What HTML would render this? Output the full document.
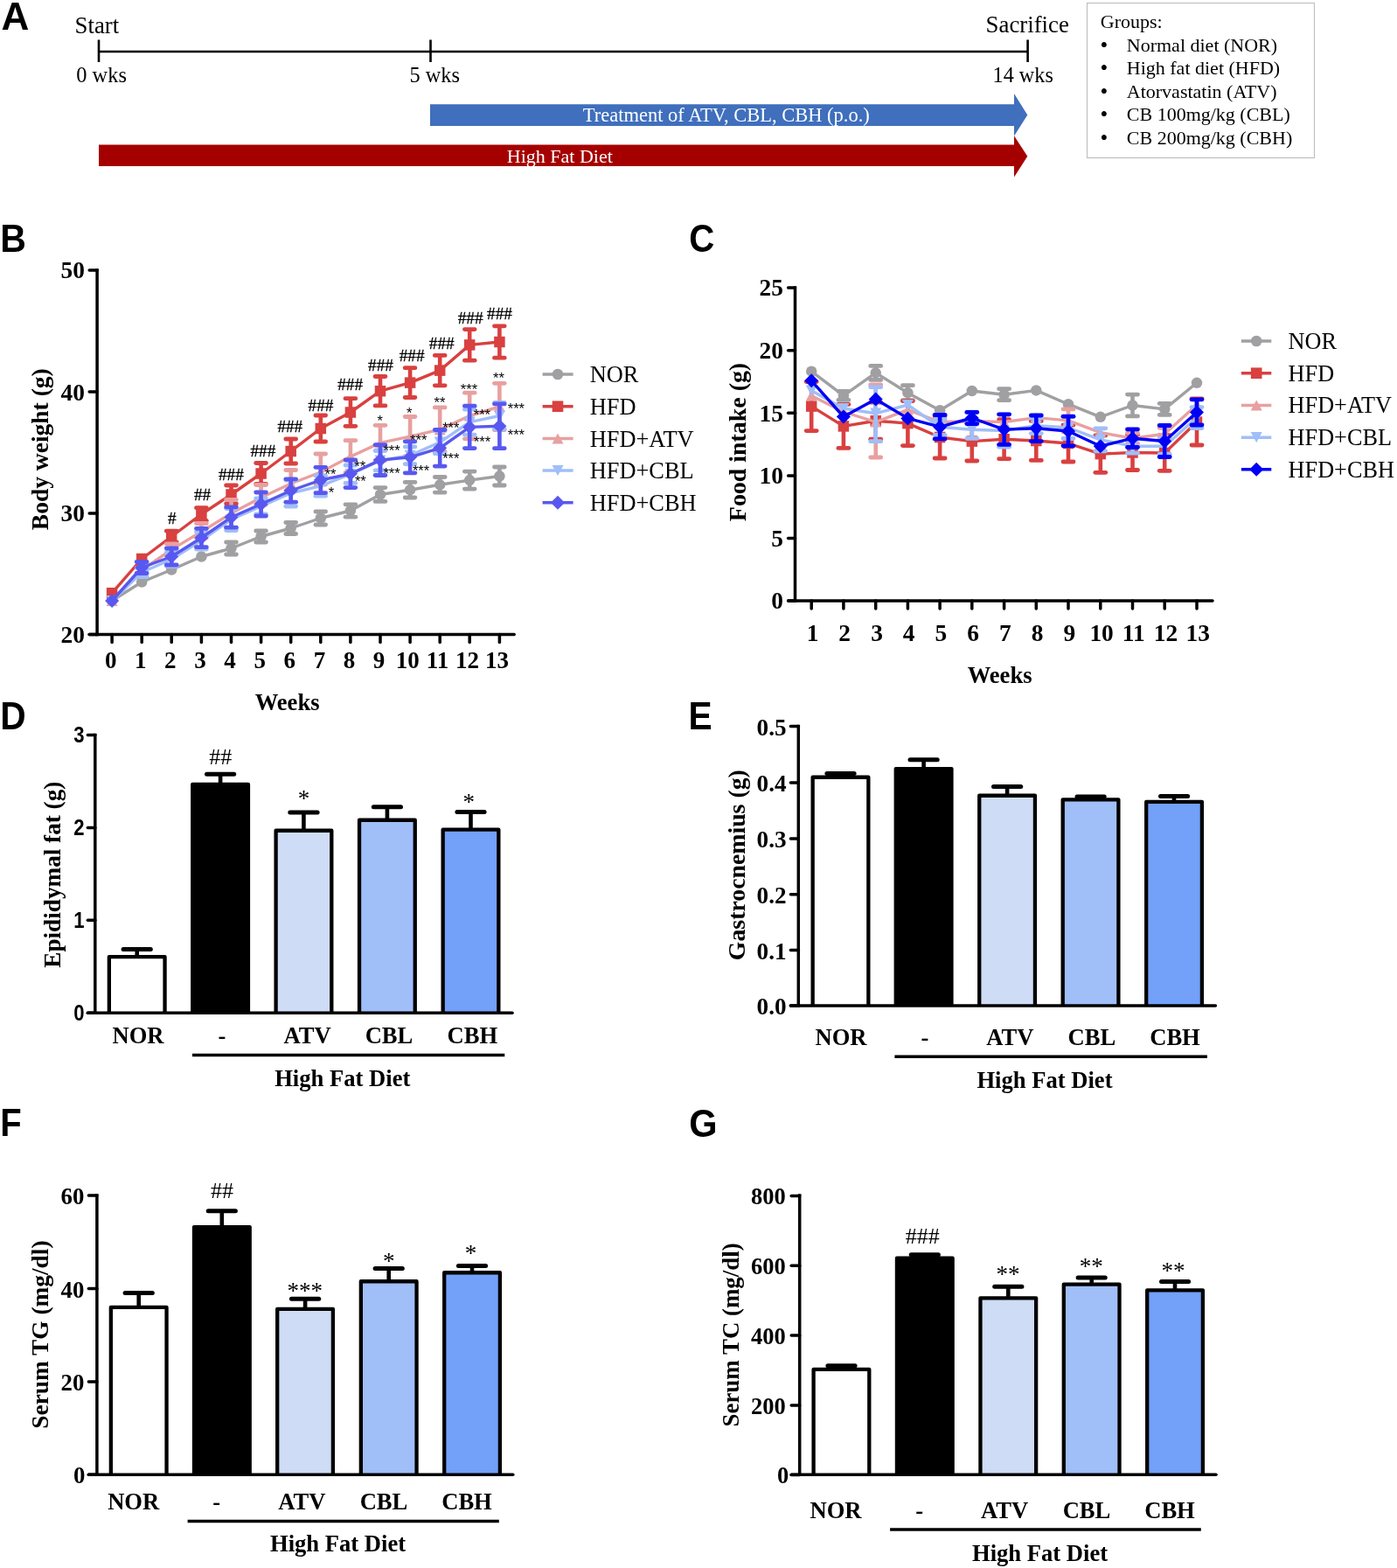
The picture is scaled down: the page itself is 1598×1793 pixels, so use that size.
<!DOCTYPE html>
<html lang="en">
<head>
<meta charset="utf-8">
<title>Figure</title>
<style>
html,body{margin:0;padding:0;background:#fff;}
body{width:1598px;height:1793px;overflow:hidden;position:relative;}
svg{position:absolute;left:0;top:0;display:block;}
text{white-space:pre;}
.sr{font-family:"Liberation Serif",serif;font-weight:400;}
.sb{font-family:"Liberation Serif",serif;font-weight:700;}
.ar{font-family:"Liberation Sans",sans-serif;font-weight:400;}
.ab{font-family:"Liberation Sans",sans-serif;font-weight:700;}
</style>
</head>
<body>
<svg width="1598" height="1793" viewBox="0 0 1598 1793">
<rect x="0" y="0" width="1598" height="1793" fill="#ffffff"/>
<text class="ab" transform="translate(1.62 34.0) scale(1.0016 1)" font-size="44.0">A</text>
<text class="ab" transform="translate(0.26 287.5) scale(0.9319 1)" font-size="44.0">B</text>
<text class="ab" transform="translate(788.34 287.8) scale(0.9137 1)" font-size="44.0">C</text>
<text class="ab" transform="translate(0.17 834.2) scale(0.9267 1)" font-size="44.0">D</text>
<text class="ab" transform="translate(787.38 834.0) scale(0.9237 1)" font-size="44.0">E</text>
<text class="ab" transform="translate(0.32 1299.0) scale(0.9096 1)" font-size="44.0">F</text>
<text class="ab" transform="translate(788.19 1300.1) scale(0.9432 1)" font-size="44.0">G</text>
<line x1="113" y1="59" x2="1176" y2="59" stroke="#000" stroke-width="2.6" stroke-linecap="butt"/>
<line x1="113" y1="45.5" x2="113" y2="71" stroke="#000" stroke-width="2.6" stroke-linecap="butt"/>
<line x1="492.5" y1="45.5" x2="492.5" y2="71" stroke="#000" stroke-width="2.6" stroke-linecap="butt"/>
<line x1="1175.6" y1="45.5" x2="1175.6" y2="71" stroke="#000" stroke-width="2.6" stroke-linecap="butt"/>
<text class="sr" x="85.6" y="37.6" font-size="26.8" text-anchor="start" fill="#000">Start</text>
<text class="sr" x="1127.6" y="37.2" font-size="26.8" text-anchor="start" fill="#000">Sacrifice</text>
<text class="sr" x="87.3" y="94" font-size="24.4" text-anchor="start" fill="#000">0 wks</text>
<text class="sr" x="468.4" y="94" font-size="24.4" text-anchor="start" fill="#000">5 wks</text>
<text class="sr" x="1135.6" y="94" font-size="24.2" text-anchor="start" fill="#000">14 wks</text>
<polygon points="492,119.3 1160,119.3 1160,107.1 1175.3,131.4 1160,155.6 1160,144 492,144" fill="#3f6fbd"/>
<polygon points="113,165.5 1160,165.5 1160,155.2 1175.3,178.8 1160,202.4 1160,190 113,190" fill="#a50000"/>
<text class="sr" x="830.8" y="138.8" font-size="22.5" text-anchor="middle" fill="#fff">Treatment of ATV, CBL, CBH (p.o.)</text>
<text class="sr" x="640.3" y="185.6" font-size="22" text-anchor="middle" fill="#fff">High Fat Diet</text>
<rect x="1243.5" y="3.5" width="260" height="177" fill="#fff" stroke="#bfbfbf" stroke-width="1.2"/>
<text class="sr" x="1258.8" y="32.2" font-size="22" text-anchor="start" fill="#000">Groups:</text>
<text class="sr" x="1258.6" y="59.5" font-size="25" text-anchor="start" fill="#000">•</text>
<text class="sr" x="1288.8" y="58.7" font-size="22" text-anchor="start" fill="#000">Normal diet (NOR)</text>
<text class="sr" x="1258.6" y="86.0" font-size="25" text-anchor="start" fill="#000">•</text>
<text class="sr" x="1288.8" y="85.2" font-size="22" text-anchor="start" fill="#000">High fat diet (HFD)</text>
<text class="sr" x="1258.6" y="112.5" font-size="25" text-anchor="start" fill="#000">•</text>
<text class="sr" x="1288.8" y="111.7" font-size="22" text-anchor="start" fill="#000">Atorvastatin (ATV)</text>
<text class="sr" x="1258.6" y="139.0" font-size="25" text-anchor="start" fill="#000">•</text>
<text class="sr" x="1288.8" y="138.2" font-size="22" text-anchor="start" fill="#000">CB 100mg/kg (CBL)</text>
<text class="sr" x="1258.6" y="165.5" font-size="25" text-anchor="start" fill="#000">•</text>
<text class="sr" x="1288.8" y="164.7" font-size="22" text-anchor="start" fill="#000">CB 200mg/kg (CBH)</text>
<line x1="111.1" y1="307.25" x2="111.1" y2="727.35" stroke="#000" stroke-width="3.5" stroke-linecap="butt"/>
<line x1="102.2" y1="725.6" x2="588.2" y2="725.6" stroke="#000" stroke-width="3.5" stroke-linecap="round"/>
<line x1="102.2" y1="309" x2="111.1" y2="309" stroke="#000" stroke-width="3.5" stroke-linecap="round"/>
<text class="sb" x="97" y="318.4" font-size="27.4" text-anchor="end" fill="#000">50</text>
<line x1="102.2" y1="448.1" x2="111.1" y2="448.1" stroke="#000" stroke-width="3.5" stroke-linecap="round"/>
<text class="sb" x="97" y="457.5" font-size="27.4" text-anchor="end" fill="#000">40</text>
<line x1="102.2" y1="587.0" x2="111.1" y2="587.0" stroke="#000" stroke-width="3.5" stroke-linecap="round"/>
<text class="sb" x="97" y="596.4" font-size="27.4" text-anchor="end" fill="#000">30</text>
<line x1="102.2" y1="725.6" x2="111.1" y2="725.6" stroke="#000" stroke-width="3.5" stroke-linecap="round"/>
<text class="sb" x="97" y="735.0" font-size="27.4" text-anchor="end" fill="#000">20</text>
<line x1="128.1" y1="725.6" x2="128.1" y2="734.4" stroke="#000" stroke-width="3.5" stroke-linecap="round"/>
<text class="sb" x="126.7" y="764" font-size="27.0" text-anchor="middle" fill="#000">0</text>
<line x1="162.2" y1="725.6" x2="162.2" y2="734.4" stroke="#000" stroke-width="3.5" stroke-linecap="round"/>
<text class="sb" x="160.8" y="764" font-size="27.0" text-anchor="middle" fill="#000">1</text>
<line x1="196.2" y1="725.6" x2="196.2" y2="734.4" stroke="#000" stroke-width="3.5" stroke-linecap="round"/>
<text class="sb" x="194.8" y="764" font-size="27.0" text-anchor="middle" fill="#000">2</text>
<line x1="230.4" y1="725.6" x2="230.4" y2="734.4" stroke="#000" stroke-width="3.5" stroke-linecap="round"/>
<text class="sb" x="229.0" y="764" font-size="27.0" text-anchor="middle" fill="#000">3</text>
<line x1="264.5" y1="725.6" x2="264.5" y2="734.4" stroke="#000" stroke-width="3.5" stroke-linecap="round"/>
<text class="sb" x="263.1" y="764" font-size="27.0" text-anchor="middle" fill="#000">4</text>
<line x1="298.6" y1="725.6" x2="298.6" y2="734.4" stroke="#000" stroke-width="3.5" stroke-linecap="round"/>
<text class="sb" x="297.2" y="764" font-size="27.0" text-anchor="middle" fill="#000">5</text>
<line x1="332.7" y1="725.6" x2="332.7" y2="734.4" stroke="#000" stroke-width="3.5" stroke-linecap="round"/>
<text class="sb" x="331.3" y="764" font-size="27.0" text-anchor="middle" fill="#000">6</text>
<line x1="366.8" y1="725.6" x2="366.8" y2="734.4" stroke="#000" stroke-width="3.5" stroke-linecap="round"/>
<text class="sb" x="365.4" y="764" font-size="27.0" text-anchor="middle" fill="#000">7</text>
<line x1="400.9" y1="725.6" x2="400.9" y2="734.4" stroke="#000" stroke-width="3.5" stroke-linecap="round"/>
<text class="sb" x="399.5" y="764" font-size="27.0" text-anchor="middle" fill="#000">8</text>
<line x1="435.0" y1="725.6" x2="435.0" y2="734.4" stroke="#000" stroke-width="3.5" stroke-linecap="round"/>
<text class="sb" x="433.6" y="764" font-size="27.0" text-anchor="middle" fill="#000">9</text>
<line x1="469.1" y1="725.6" x2="469.1" y2="734.4" stroke="#000" stroke-width="3.5" stroke-linecap="round"/>
<text class="sb" x="466.2" y="764" font-size="27.0" text-anchor="middle" fill="#000">10</text>
<line x1="503.2" y1="725.6" x2="503.2" y2="734.4" stroke="#000" stroke-width="3.5" stroke-linecap="round"/>
<text class="sb" x="500.4" y="764" font-size="27.0" text-anchor="middle" fill="#000">11</text>
<line x1="537.2" y1="725.6" x2="537.2" y2="734.4" stroke="#000" stroke-width="3.5" stroke-linecap="round"/>
<text class="sb" x="534.5" y="764" font-size="27.0" text-anchor="middle" fill="#000">12</text>
<line x1="571.4" y1="725.6" x2="571.4" y2="734.4" stroke="#000" stroke-width="3.5" stroke-linecap="round"/>
<text class="sb" x="568.6" y="764" font-size="27.0" text-anchor="middle" fill="#000">13</text>
<text class="sb" x="328.6" y="812" font-size="26.6" text-anchor="middle" fill="#000">Weeks</text>
<text class="sb" transform="translate(54.6 513.7) rotate(-90)" font-size="27.5" text-anchor="middle">Body weight (g)</text>
<line x1="264.5" y1="620.0" x2="264.5" y2="634.0" stroke="#a0a0a3" stroke-width="4.6" stroke-linecap="butt"/>
<line x1="258.6" y1="620.0" x2="270.4" y2="620.0" stroke="#a0a0a3" stroke-width="4.8" stroke-linecap="round"/>
<line x1="258.6" y1="634.0" x2="270.4" y2="634.0" stroke="#a0a0a3" stroke-width="4.8" stroke-linecap="round"/>
<line x1="298.6" y1="607.0" x2="298.6" y2="620.0" stroke="#a0a0a3" stroke-width="4.6" stroke-linecap="butt"/>
<line x1="292.7" y1="607.0" x2="304.4" y2="607.0" stroke="#a0a0a3" stroke-width="4.8" stroke-linecap="round"/>
<line x1="292.7" y1="620.0" x2="304.4" y2="620.0" stroke="#a0a0a3" stroke-width="4.8" stroke-linecap="round"/>
<line x1="332.7" y1="597.5" x2="332.7" y2="610.5" stroke="#a0a0a3" stroke-width="4.6" stroke-linecap="butt"/>
<line x1="326.8" y1="597.5" x2="338.6" y2="597.5" stroke="#a0a0a3" stroke-width="4.8" stroke-linecap="round"/>
<line x1="326.8" y1="610.5" x2="338.6" y2="610.5" stroke="#a0a0a3" stroke-width="4.8" stroke-linecap="round"/>
<line x1="366.8" y1="585.0" x2="366.8" y2="600.0" stroke="#a0a0a3" stroke-width="4.6" stroke-linecap="butt"/>
<line x1="360.9" y1="585.0" x2="372.6" y2="585.0" stroke="#a0a0a3" stroke-width="4.8" stroke-linecap="round"/>
<line x1="360.9" y1="600.0" x2="372.6" y2="600.0" stroke="#a0a0a3" stroke-width="4.8" stroke-linecap="round"/>
<line x1="400.9" y1="576.8" x2="400.9" y2="591.2" stroke="#a0a0a3" stroke-width="4.6" stroke-linecap="butt"/>
<line x1="395.0" y1="576.8" x2="406.8" y2="576.8" stroke="#a0a0a3" stroke-width="4.8" stroke-linecap="round"/>
<line x1="395.0" y1="591.2" x2="406.8" y2="591.2" stroke="#a0a0a3" stroke-width="4.8" stroke-linecap="round"/>
<line x1="435.0" y1="557.6" x2="435.0" y2="573.4" stroke="#a0a0a3" stroke-width="4.6" stroke-linecap="butt"/>
<line x1="429.1" y1="557.6" x2="440.9" y2="557.6" stroke="#a0a0a3" stroke-width="4.8" stroke-linecap="round"/>
<line x1="429.1" y1="573.4" x2="440.9" y2="573.4" stroke="#a0a0a3" stroke-width="4.8" stroke-linecap="round"/>
<line x1="469.1" y1="551.4" x2="469.1" y2="569.0" stroke="#a0a0a3" stroke-width="4.6" stroke-linecap="butt"/>
<line x1="463.2" y1="551.4" x2="474.9" y2="551.4" stroke="#a0a0a3" stroke-width="4.8" stroke-linecap="round"/>
<line x1="463.2" y1="569.0" x2="474.9" y2="569.0" stroke="#a0a0a3" stroke-width="4.8" stroke-linecap="round"/>
<line x1="503.2" y1="545.5" x2="503.2" y2="563.1" stroke="#a0a0a3" stroke-width="4.6" stroke-linecap="butt"/>
<line x1="497.3" y1="545.5" x2="509.1" y2="545.5" stroke="#a0a0a3" stroke-width="4.8" stroke-linecap="round"/>
<line x1="497.3" y1="563.1" x2="509.1" y2="563.1" stroke="#a0a0a3" stroke-width="4.8" stroke-linecap="round"/>
<line x1="537.2" y1="539.1" x2="537.2" y2="559.1" stroke="#a0a0a3" stroke-width="4.6" stroke-linecap="butt"/>
<line x1="531.4" y1="539.1" x2="543.1" y2="539.1" stroke="#a0a0a3" stroke-width="4.8" stroke-linecap="round"/>
<line x1="531.4" y1="559.1" x2="543.1" y2="559.1" stroke="#a0a0a3" stroke-width="4.8" stroke-linecap="round"/>
<line x1="571.4" y1="534.0" x2="571.4" y2="555.0" stroke="#a0a0a3" stroke-width="4.6" stroke-linecap="butt"/>
<line x1="565.5" y1="534.0" x2="577.2" y2="534.0" stroke="#a0a0a3" stroke-width="4.8" stroke-linecap="round"/>
<line x1="565.5" y1="555.0" x2="577.2" y2="555.0" stroke="#a0a0a3" stroke-width="4.8" stroke-linecap="round"/>
<polyline points="128.1,687.0 162.2,665.5 196.2,651.5 230.4,636.5 264.5,627.0 298.6,613.5 332.7,604.0 366.8,592.5 400.9,584.0 435.0,565.5 469.1,560.2 503.2,554.3 537.2,549.1 571.4,544.5" fill="none" stroke="#a0a0a3" stroke-width="3.4" stroke-linejoin="round"/>
<circle cx="128.1" cy="687" r="6.25" fill="#a0a0a3"/>
<circle cx="162.2" cy="665.5" r="6.25" fill="#a0a0a3"/>
<circle cx="196.2" cy="651.5" r="6.25" fill="#a0a0a3"/>
<circle cx="230.4" cy="636.5" r="6.25" fill="#a0a0a3"/>
<circle cx="264.5" cy="627" r="6.25" fill="#a0a0a3"/>
<circle cx="298.6" cy="613.5" r="6.25" fill="#a0a0a3"/>
<circle cx="332.7" cy="604" r="6.25" fill="#a0a0a3"/>
<circle cx="366.8" cy="592.5" r="6.25" fill="#a0a0a3"/>
<circle cx="400.9" cy="584" r="6.25" fill="#a0a0a3"/>
<circle cx="435.0" cy="565.5" r="6.25" fill="#a0a0a3"/>
<circle cx="469.1" cy="560.2" r="6.25" fill="#a0a0a3"/>
<circle cx="503.2" cy="554.3" r="6.25" fill="#a0a0a3"/>
<circle cx="537.2" cy="549.1" r="6.25" fill="#a0a0a3"/>
<circle cx="571.4" cy="544.5" r="6.25" fill="#a0a0a3"/>
<line x1="196.2" y1="607.2" x2="196.2" y2="619.8" stroke="#d94040" stroke-width="4.6" stroke-linecap="butt"/>
<line x1="190.3" y1="607.2" x2="202.2" y2="607.2" stroke="#d94040" stroke-width="4.8" stroke-linecap="round"/>
<line x1="190.3" y1="619.8" x2="202.2" y2="619.8" stroke="#d94040" stroke-width="4.8" stroke-linecap="round"/>
<line x1="230.4" y1="580.7" x2="230.4" y2="595.3" stroke="#d94040" stroke-width="4.6" stroke-linecap="butt"/>
<line x1="224.5" y1="580.7" x2="236.3" y2="580.7" stroke="#d94040" stroke-width="4.8" stroke-linecap="round"/>
<line x1="224.5" y1="595.3" x2="236.3" y2="595.3" stroke="#d94040" stroke-width="4.8" stroke-linecap="round"/>
<line x1="264.5" y1="555.0" x2="264.5" y2="576.0" stroke="#d94040" stroke-width="4.6" stroke-linecap="butt"/>
<line x1="258.6" y1="555.0" x2="270.4" y2="555.0" stroke="#d94040" stroke-width="4.8" stroke-linecap="round"/>
<line x1="258.6" y1="576.0" x2="270.4" y2="576.0" stroke="#d94040" stroke-width="4.8" stroke-linecap="round"/>
<line x1="298.6" y1="529.5" x2="298.6" y2="553.5" stroke="#d94040" stroke-width="4.6" stroke-linecap="butt"/>
<line x1="292.7" y1="529.5" x2="304.4" y2="529.5" stroke="#d94040" stroke-width="4.8" stroke-linecap="round"/>
<line x1="292.7" y1="553.5" x2="304.4" y2="553.5" stroke="#d94040" stroke-width="4.8" stroke-linecap="round"/>
<line x1="332.7" y1="502.0" x2="332.7" y2="530.0" stroke="#d94040" stroke-width="4.6" stroke-linecap="butt"/>
<line x1="326.8" y1="502.0" x2="338.6" y2="502.0" stroke="#d94040" stroke-width="4.8" stroke-linecap="round"/>
<line x1="326.8" y1="530.0" x2="338.6" y2="530.0" stroke="#d94040" stroke-width="4.8" stroke-linecap="round"/>
<line x1="366.8" y1="475.0" x2="366.8" y2="505.0" stroke="#d94040" stroke-width="4.6" stroke-linecap="butt"/>
<line x1="360.9" y1="475.0" x2="372.6" y2="475.0" stroke="#d94040" stroke-width="4.8" stroke-linecap="round"/>
<line x1="360.9" y1="505.0" x2="372.6" y2="505.0" stroke="#d94040" stroke-width="4.8" stroke-linecap="round"/>
<line x1="400.9" y1="455.7" x2="400.9" y2="487.3" stroke="#d94040" stroke-width="4.6" stroke-linecap="butt"/>
<line x1="395.0" y1="455.7" x2="406.8" y2="455.7" stroke="#d94040" stroke-width="4.8" stroke-linecap="round"/>
<line x1="395.0" y1="487.3" x2="406.8" y2="487.3" stroke="#d94040" stroke-width="4.8" stroke-linecap="round"/>
<line x1="435.0" y1="430.5" x2="435.0" y2="463.9" stroke="#d94040" stroke-width="4.6" stroke-linecap="butt"/>
<line x1="429.1" y1="430.5" x2="440.9" y2="430.5" stroke="#d94040" stroke-width="4.8" stroke-linecap="round"/>
<line x1="429.1" y1="463.9" x2="440.9" y2="463.9" stroke="#d94040" stroke-width="4.8" stroke-linecap="round"/>
<line x1="469.1" y1="420.7" x2="469.1" y2="454.5" stroke="#d94040" stroke-width="4.6" stroke-linecap="butt"/>
<line x1="463.2" y1="420.7" x2="474.9" y2="420.7" stroke="#d94040" stroke-width="4.8" stroke-linecap="round"/>
<line x1="463.2" y1="454.5" x2="474.9" y2="454.5" stroke="#d94040" stroke-width="4.8" stroke-linecap="round"/>
<line x1="503.2" y1="406.4" x2="503.2" y2="440.8" stroke="#d94040" stroke-width="4.6" stroke-linecap="butt"/>
<line x1="497.3" y1="406.4" x2="509.1" y2="406.4" stroke="#d94040" stroke-width="4.8" stroke-linecap="round"/>
<line x1="497.3" y1="440.8" x2="509.1" y2="440.8" stroke="#d94040" stroke-width="4.8" stroke-linecap="round"/>
<line x1="537.2" y1="376.6" x2="537.2" y2="412.2" stroke="#d94040" stroke-width="4.6" stroke-linecap="butt"/>
<line x1="531.4" y1="376.6" x2="543.1" y2="376.6" stroke="#d94040" stroke-width="4.8" stroke-linecap="round"/>
<line x1="531.4" y1="412.2" x2="543.1" y2="412.2" stroke="#d94040" stroke-width="4.8" stroke-linecap="round"/>
<line x1="571.4" y1="372.8" x2="571.4" y2="409.2" stroke="#d94040" stroke-width="4.6" stroke-linecap="butt"/>
<line x1="565.5" y1="372.8" x2="577.2" y2="372.8" stroke="#d94040" stroke-width="4.8" stroke-linecap="round"/>
<line x1="565.5" y1="409.2" x2="577.2" y2="409.2" stroke="#d94040" stroke-width="4.8" stroke-linecap="round"/>
<polyline points="128.1,678.2 162.2,639.0 196.2,613.5 230.4,588.0 264.5,565.5 298.6,541.5 332.7,516.0 366.8,490.0 400.9,471.5 435.0,447.2 469.1,437.6 503.2,423.6 537.2,394.4 571.4,391.0" fill="none" stroke="#d94040" stroke-width="3.4" stroke-linejoin="round"/>
<rect x="121.85" y="671.95" width="12.5" height="12.5" fill="#d94040"/>
<rect x="155.95" y="632.75" width="12.5" height="12.5" fill="#d94040"/>
<rect x="189.95" y="607.25" width="12.5" height="12.5" fill="#d94040"/>
<rect x="224.15" y="581.75" width="12.5" height="12.5" fill="#d94040"/>
<rect x="258.25" y="559.25" width="12.5" height="12.5" fill="#d94040"/>
<rect x="292.35" y="535.25" width="12.5" height="12.5" fill="#d94040"/>
<rect x="326.45" y="509.75" width="12.5" height="12.5" fill="#d94040"/>
<rect x="360.55" y="483.75" width="12.5" height="12.5" fill="#d94040"/>
<rect x="394.65" y="465.25" width="12.5" height="12.5" fill="#d94040"/>
<rect x="428.75" y="440.95" width="12.5" height="12.5" fill="#d94040"/>
<rect x="462.85" y="431.35" width="12.5" height="12.5" fill="#d94040"/>
<rect x="496.95" y="417.35" width="12.5" height="12.5" fill="#d94040"/>
<rect x="530.95" y="388.15" width="12.5" height="12.5" fill="#d94040"/>
<rect x="565.15" y="384.75" width="12.5" height="12.5" fill="#d94040"/>
<line x1="196.2" y1="622.0" x2="196.2" y2="634.8" stroke="#e8a0a0" stroke-width="4.6" stroke-linecap="butt"/>
<line x1="190.3" y1="622.0" x2="202.2" y2="622.0" stroke="#e8a0a0" stroke-width="4.8" stroke-linecap="round"/>
<line x1="190.3" y1="634.8" x2="202.2" y2="634.8" stroke="#e8a0a0" stroke-width="4.8" stroke-linecap="round"/>
<line x1="230.4" y1="598.5" x2="230.4" y2="615.0" stroke="#e8a0a0" stroke-width="4.6" stroke-linecap="butt"/>
<line x1="224.5" y1="598.5" x2="236.3" y2="598.5" stroke="#e8a0a0" stroke-width="4.8" stroke-linecap="round"/>
<line x1="224.5" y1="615.0" x2="236.3" y2="615.0" stroke="#e8a0a0" stroke-width="4.8" stroke-linecap="round"/>
<line x1="264.5" y1="571.5" x2="264.5" y2="603.5" stroke="#e8a0a0" stroke-width="4.6" stroke-linecap="butt"/>
<line x1="258.6" y1="571.5" x2="270.4" y2="571.5" stroke="#e8a0a0" stroke-width="4.8" stroke-linecap="round"/>
<line x1="258.6" y1="603.5" x2="270.4" y2="603.5" stroke="#e8a0a0" stroke-width="4.8" stroke-linecap="round"/>
<line x1="298.6" y1="554.5" x2="298.6" y2="577.0" stroke="#e8a0a0" stroke-width="4.6" stroke-linecap="butt"/>
<line x1="292.7" y1="554.5" x2="304.4" y2="554.5" stroke="#e8a0a0" stroke-width="4.8" stroke-linecap="round"/>
<line x1="292.7" y1="577.0" x2="304.4" y2="577.0" stroke="#e8a0a0" stroke-width="4.8" stroke-linecap="round"/>
<line x1="332.7" y1="537.5" x2="332.7" y2="561.0" stroke="#e8a0a0" stroke-width="4.6" stroke-linecap="butt"/>
<line x1="326.8" y1="537.5" x2="338.6" y2="537.5" stroke="#e8a0a0" stroke-width="4.8" stroke-linecap="round"/>
<line x1="326.8" y1="561.0" x2="338.6" y2="561.0" stroke="#e8a0a0" stroke-width="4.8" stroke-linecap="round"/>
<line x1="366.8" y1="519.0" x2="366.8" y2="554.0" stroke="#e8a0a0" stroke-width="4.6" stroke-linecap="butt"/>
<line x1="360.9" y1="519.0" x2="372.6" y2="519.0" stroke="#e8a0a0" stroke-width="4.8" stroke-linecap="round"/>
<line x1="360.9" y1="554.0" x2="372.6" y2="554.0" stroke="#e8a0a0" stroke-width="4.8" stroke-linecap="round"/>
<line x1="400.9" y1="503.7" x2="400.9" y2="540.5" stroke="#e8a0a0" stroke-width="4.6" stroke-linecap="butt"/>
<line x1="395.0" y1="503.7" x2="406.8" y2="503.7" stroke="#e8a0a0" stroke-width="4.8" stroke-linecap="round"/>
<line x1="395.0" y1="540.5" x2="406.8" y2="540.5" stroke="#e8a0a0" stroke-width="4.8" stroke-linecap="round"/>
<line x1="435.0" y1="486.3" x2="435.0" y2="526.5" stroke="#e8a0a0" stroke-width="4.6" stroke-linecap="butt"/>
<line x1="429.1" y1="486.3" x2="440.9" y2="486.3" stroke="#e8a0a0" stroke-width="4.8" stroke-linecap="round"/>
<line x1="429.1" y1="526.5" x2="440.9" y2="526.5" stroke="#e8a0a0" stroke-width="4.8" stroke-linecap="round"/>
<line x1="469.1" y1="476.5" x2="469.1" y2="521.7" stroke="#e8a0a0" stroke-width="4.6" stroke-linecap="butt"/>
<line x1="463.2" y1="476.5" x2="474.9" y2="476.5" stroke="#e8a0a0" stroke-width="4.8" stroke-linecap="round"/>
<line x1="463.2" y1="521.7" x2="474.9" y2="521.7" stroke="#e8a0a0" stroke-width="4.8" stroke-linecap="round"/>
<line x1="503.2" y1="465.9" x2="503.2" y2="516.5" stroke="#e8a0a0" stroke-width="4.6" stroke-linecap="butt"/>
<line x1="497.3" y1="465.9" x2="509.1" y2="465.9" stroke="#e8a0a0" stroke-width="4.8" stroke-linecap="round"/>
<line x1="497.3" y1="516.5" x2="509.1" y2="516.5" stroke="#e8a0a0" stroke-width="4.8" stroke-linecap="round"/>
<line x1="537.2" y1="449.2" x2="537.2" y2="501.8" stroke="#e8a0a0" stroke-width="4.6" stroke-linecap="butt"/>
<line x1="531.4" y1="449.2" x2="543.1" y2="449.2" stroke="#e8a0a0" stroke-width="4.8" stroke-linecap="round"/>
<line x1="531.4" y1="501.8" x2="543.1" y2="501.8" stroke="#e8a0a0" stroke-width="4.8" stroke-linecap="round"/>
<line x1="571.4" y1="438.3" x2="571.4" y2="491.7" stroke="#e8a0a0" stroke-width="4.6" stroke-linecap="butt"/>
<line x1="565.5" y1="438.3" x2="577.2" y2="438.3" stroke="#e8a0a0" stroke-width="4.8" stroke-linecap="round"/>
<line x1="565.5" y1="491.7" x2="577.2" y2="491.7" stroke="#e8a0a0" stroke-width="4.8" stroke-linecap="round"/>
<polyline points="128.1,687.0 162.2,652.0 196.2,628.4 230.4,608.0 264.5,587.0 298.6,569.0 332.7,553.0 366.8,540.0 400.9,522.1 435.0,506.4 469.1,499.1 503.2,491.2 537.2,475.5 571.4,465.0" fill="none" stroke="#e8a0a0" stroke-width="3.4" stroke-linejoin="round"/>
<polygon points="128.1,680.90 134.60,693.10 121.60,693.10" fill="#e8a0a0"/>
<polygon points="162.2,645.90 168.70,658.10 155.70,658.10" fill="#e8a0a0"/>
<polygon points="196.2,622.30 202.70,634.50 189.70,634.50" fill="#e8a0a0"/>
<polygon points="230.4,601.90 236.90,614.10 223.90,614.10" fill="#e8a0a0"/>
<polygon points="264.5,580.90 271.00,593.10 258.00,593.10" fill="#e8a0a0"/>
<polygon points="298.6,562.90 305.10,575.10 292.10,575.10" fill="#e8a0a0"/>
<polygon points="332.7,546.90 339.20,559.10 326.20,559.10" fill="#e8a0a0"/>
<polygon points="366.8,533.90 373.30,546.10 360.30,546.10" fill="#e8a0a0"/>
<polygon points="400.9,516.00 407.40,528.20 394.40,528.20" fill="#e8a0a0"/>
<polygon points="435.0,500.30 441.50,512.50 428.50,512.50" fill="#e8a0a0"/>
<polygon points="469.1,493.00 475.60,505.20 462.60,505.20" fill="#e8a0a0"/>
<polygon points="503.2,485.10 509.70,497.30 496.70,497.30" fill="#e8a0a0"/>
<polygon points="537.2,469.40 543.70,481.60 530.70,481.60" fill="#e8a0a0"/>
<polygon points="571.4,458.90 577.90,471.10 564.90,471.10" fill="#e8a0a0"/>
<line x1="162.2" y1="649.5" x2="162.2" y2="659.5" stroke="#a0bef8" stroke-width="4.6" stroke-linecap="butt"/>
<line x1="156.2" y1="649.5" x2="168.1" y2="649.5" stroke="#a0bef8" stroke-width="4.8" stroke-linecap="round"/>
<line x1="156.2" y1="659.5" x2="168.1" y2="659.5" stroke="#a0bef8" stroke-width="4.8" stroke-linecap="round"/>
<line x1="196.2" y1="631.5" x2="196.2" y2="647.5" stroke="#a0bef8" stroke-width="4.6" stroke-linecap="butt"/>
<line x1="190.3" y1="631.5" x2="202.2" y2="631.5" stroke="#a0bef8" stroke-width="4.8" stroke-linecap="round"/>
<line x1="190.3" y1="647.5" x2="202.2" y2="647.5" stroke="#a0bef8" stroke-width="4.8" stroke-linecap="round"/>
<line x1="230.4" y1="608.0" x2="230.4" y2="628.0" stroke="#a0bef8" stroke-width="4.6" stroke-linecap="butt"/>
<line x1="224.5" y1="608.0" x2="236.3" y2="608.0" stroke="#a0bef8" stroke-width="4.8" stroke-linecap="round"/>
<line x1="224.5" y1="628.0" x2="236.3" y2="628.0" stroke="#a0bef8" stroke-width="4.8" stroke-linecap="round"/>
<line x1="264.5" y1="581.5" x2="264.5" y2="606.5" stroke="#a0bef8" stroke-width="4.6" stroke-linecap="butt"/>
<line x1="258.6" y1="581.5" x2="270.4" y2="581.5" stroke="#a0bef8" stroke-width="4.8" stroke-linecap="round"/>
<line x1="258.6" y1="606.5" x2="270.4" y2="606.5" stroke="#a0bef8" stroke-width="4.8" stroke-linecap="round"/>
<line x1="298.6" y1="570.0" x2="298.6" y2="588.0" stroke="#a0bef8" stroke-width="4.6" stroke-linecap="butt"/>
<line x1="292.7" y1="570.0" x2="304.4" y2="570.0" stroke="#a0bef8" stroke-width="4.8" stroke-linecap="round"/>
<line x1="292.7" y1="588.0" x2="304.4" y2="588.0" stroke="#a0bef8" stroke-width="4.8" stroke-linecap="round"/>
<line x1="332.7" y1="549.0" x2="332.7" y2="579.0" stroke="#a0bef8" stroke-width="4.6" stroke-linecap="butt"/>
<line x1="326.8" y1="549.0" x2="338.6" y2="549.0" stroke="#a0bef8" stroke-width="4.8" stroke-linecap="round"/>
<line x1="326.8" y1="579.0" x2="338.6" y2="579.0" stroke="#a0bef8" stroke-width="4.8" stroke-linecap="round"/>
<line x1="366.8" y1="544.0" x2="366.8" y2="567.2" stroke="#a0bef8" stroke-width="4.6" stroke-linecap="butt"/>
<line x1="360.9" y1="544.0" x2="372.6" y2="544.0" stroke="#a0bef8" stroke-width="4.8" stroke-linecap="round"/>
<line x1="360.9" y1="567.2" x2="372.6" y2="567.2" stroke="#a0bef8" stroke-width="4.8" stroke-linecap="round"/>
<line x1="400.9" y1="532.0" x2="400.9" y2="552.4" stroke="#a0bef8" stroke-width="4.6" stroke-linecap="butt"/>
<line x1="395.0" y1="532.0" x2="406.8" y2="532.0" stroke="#a0bef8" stroke-width="4.8" stroke-linecap="round"/>
<line x1="395.0" y1="552.4" x2="406.8" y2="552.4" stroke="#a0bef8" stroke-width="4.8" stroke-linecap="round"/>
<line x1="435.0" y1="515.5" x2="435.0" y2="537.9" stroke="#a0bef8" stroke-width="4.6" stroke-linecap="butt"/>
<line x1="429.1" y1="515.5" x2="440.9" y2="515.5" stroke="#a0bef8" stroke-width="4.8" stroke-linecap="round"/>
<line x1="429.1" y1="537.9" x2="440.9" y2="537.9" stroke="#a0bef8" stroke-width="4.8" stroke-linecap="round"/>
<line x1="469.1" y1="510.9" x2="469.1" y2="530.7" stroke="#a0bef8" stroke-width="4.6" stroke-linecap="butt"/>
<line x1="463.2" y1="510.9" x2="474.9" y2="510.9" stroke="#a0bef8" stroke-width="4.8" stroke-linecap="round"/>
<line x1="463.2" y1="530.7" x2="474.9" y2="530.7" stroke="#a0bef8" stroke-width="4.8" stroke-linecap="round"/>
<line x1="503.2" y1="492.7" x2="503.2" y2="518.7" stroke="#a0bef8" stroke-width="4.6" stroke-linecap="butt"/>
<line x1="497.3" y1="492.7" x2="509.1" y2="492.7" stroke="#a0bef8" stroke-width="4.8" stroke-linecap="round"/>
<line x1="497.3" y1="518.7" x2="509.1" y2="518.7" stroke="#a0bef8" stroke-width="4.8" stroke-linecap="round"/>
<line x1="537.2" y1="468.2" x2="537.2" y2="497.2" stroke="#a0bef8" stroke-width="4.6" stroke-linecap="butt"/>
<line x1="531.4" y1="468.2" x2="543.1" y2="468.2" stroke="#a0bef8" stroke-width="4.8" stroke-linecap="round"/>
<line x1="531.4" y1="497.2" x2="543.1" y2="497.2" stroke="#a0bef8" stroke-width="4.8" stroke-linecap="round"/>
<line x1="571.4" y1="460.5" x2="571.4" y2="490.5" stroke="#a0bef8" stroke-width="4.6" stroke-linecap="butt"/>
<line x1="565.5" y1="460.5" x2="577.2" y2="460.5" stroke="#a0bef8" stroke-width="4.8" stroke-linecap="round"/>
<line x1="565.5" y1="490.5" x2="577.2" y2="490.5" stroke="#a0bef8" stroke-width="4.8" stroke-linecap="round"/>
<polyline points="128.1,687.0 162.2,654.5 196.2,639.5 230.4,618.0 264.5,594.0 298.6,579.0 332.7,564.0 366.8,555.6 400.9,542.2 435.0,526.7 469.1,520.8 503.2,505.7 537.2,482.7 571.4,475.5" fill="none" stroke="#a0bef8" stroke-width="3.4" stroke-linejoin="round"/>
<polygon points="128.1,693.10 134.60,680.90 121.60,680.90" fill="#a0bef8"/>
<polygon points="162.2,660.60 168.70,648.40 155.70,648.40" fill="#a0bef8"/>
<polygon points="196.2,645.60 202.70,633.40 189.70,633.40" fill="#a0bef8"/>
<polygon points="230.4,624.10 236.90,611.90 223.90,611.90" fill="#a0bef8"/>
<polygon points="264.5,600.10 271.00,587.90 258.00,587.90" fill="#a0bef8"/>
<polygon points="298.6,585.10 305.10,572.90 292.10,572.90" fill="#a0bef8"/>
<polygon points="332.7,570.10 339.20,557.90 326.20,557.90" fill="#a0bef8"/>
<polygon points="366.8,561.70 373.30,549.50 360.30,549.50" fill="#a0bef8"/>
<polygon points="400.9,548.30 407.40,536.10 394.40,536.10" fill="#a0bef8"/>
<polygon points="435.0,532.80 441.50,520.60 428.50,520.60" fill="#a0bef8"/>
<polygon points="469.1,526.90 475.60,514.70 462.60,514.70" fill="#a0bef8"/>
<polygon points="503.2,511.80 509.70,499.60 496.70,499.60" fill="#a0bef8"/>
<polygon points="537.2,488.80 543.70,476.60 530.70,476.60" fill="#a0bef8"/>
<polygon points="571.4,481.60 577.90,469.40 564.90,469.40" fill="#a0bef8"/>
<line x1="162.2" y1="642.5" x2="162.2" y2="655.5" stroke="#5858f0" stroke-width="4.6" stroke-linecap="butt"/>
<line x1="156.2" y1="642.5" x2="168.1" y2="642.5" stroke="#5858f0" stroke-width="4.8" stroke-linecap="round"/>
<line x1="156.2" y1="655.5" x2="168.1" y2="655.5" stroke="#5858f0" stroke-width="4.8" stroke-linecap="round"/>
<line x1="196.2" y1="627.0" x2="196.2" y2="646.0" stroke="#5858f0" stroke-width="4.6" stroke-linecap="butt"/>
<line x1="190.3" y1="627.0" x2="202.2" y2="627.0" stroke="#5858f0" stroke-width="4.8" stroke-linecap="round"/>
<line x1="190.3" y1="646.0" x2="202.2" y2="646.0" stroke="#5858f0" stroke-width="4.8" stroke-linecap="round"/>
<line x1="230.4" y1="604.3" x2="230.4" y2="625.7" stroke="#5858f0" stroke-width="4.6" stroke-linecap="butt"/>
<line x1="224.5" y1="604.3" x2="236.3" y2="604.3" stroke="#5858f0" stroke-width="4.8" stroke-linecap="round"/>
<line x1="224.5" y1="625.7" x2="236.3" y2="625.7" stroke="#5858f0" stroke-width="4.8" stroke-linecap="round"/>
<line x1="264.5" y1="579.8" x2="264.5" y2="603.2" stroke="#5858f0" stroke-width="4.6" stroke-linecap="butt"/>
<line x1="258.6" y1="579.8" x2="270.4" y2="579.8" stroke="#5858f0" stroke-width="4.8" stroke-linecap="round"/>
<line x1="258.6" y1="603.2" x2="270.4" y2="603.2" stroke="#5858f0" stroke-width="4.8" stroke-linecap="round"/>
<line x1="298.6" y1="563.0" x2="298.6" y2="590.0" stroke="#5858f0" stroke-width="4.6" stroke-linecap="butt"/>
<line x1="292.7" y1="563.0" x2="304.4" y2="563.0" stroke="#5858f0" stroke-width="4.8" stroke-linecap="round"/>
<line x1="292.7" y1="590.0" x2="304.4" y2="590.0" stroke="#5858f0" stroke-width="4.8" stroke-linecap="round"/>
<line x1="332.7" y1="547.8" x2="332.7" y2="574.2" stroke="#5858f0" stroke-width="4.6" stroke-linecap="butt"/>
<line x1="326.8" y1="547.8" x2="338.6" y2="547.8" stroke="#5858f0" stroke-width="4.8" stroke-linecap="round"/>
<line x1="326.8" y1="574.2" x2="338.6" y2="574.2" stroke="#5858f0" stroke-width="4.8" stroke-linecap="round"/>
<line x1="366.8" y1="534.3" x2="366.8" y2="563.7" stroke="#5858f0" stroke-width="4.6" stroke-linecap="butt"/>
<line x1="360.9" y1="534.3" x2="372.6" y2="534.3" stroke="#5858f0" stroke-width="4.8" stroke-linecap="round"/>
<line x1="360.9" y1="563.7" x2="372.6" y2="563.7" stroke="#5858f0" stroke-width="4.8" stroke-linecap="round"/>
<line x1="400.9" y1="526.0" x2="400.9" y2="557.6" stroke="#5858f0" stroke-width="4.6" stroke-linecap="butt"/>
<line x1="395.0" y1="526.0" x2="406.8" y2="526.0" stroke="#5858f0" stroke-width="4.8" stroke-linecap="round"/>
<line x1="395.0" y1="557.6" x2="406.8" y2="557.6" stroke="#5858f0" stroke-width="4.8" stroke-linecap="round"/>
<line x1="435.0" y1="508.7" x2="435.0" y2="543.5" stroke="#5858f0" stroke-width="4.6" stroke-linecap="butt"/>
<line x1="429.1" y1="508.7" x2="440.9" y2="508.7" stroke="#5858f0" stroke-width="4.8" stroke-linecap="round"/>
<line x1="429.1" y1="543.5" x2="440.9" y2="543.5" stroke="#5858f0" stroke-width="4.8" stroke-linecap="round"/>
<line x1="469.1" y1="504.8" x2="469.1" y2="540.8" stroke="#5858f0" stroke-width="4.6" stroke-linecap="butt"/>
<line x1="463.2" y1="504.8" x2="474.9" y2="504.8" stroke="#5858f0" stroke-width="4.8" stroke-linecap="round"/>
<line x1="463.2" y1="540.8" x2="474.9" y2="540.8" stroke="#5858f0" stroke-width="4.8" stroke-linecap="round"/>
<line x1="503.2" y1="491.5" x2="503.2" y2="533.1" stroke="#5858f0" stroke-width="4.6" stroke-linecap="butt"/>
<line x1="497.3" y1="491.5" x2="509.1" y2="491.5" stroke="#5858f0" stroke-width="4.8" stroke-linecap="round"/>
<line x1="497.3" y1="533.1" x2="509.1" y2="533.1" stroke="#5858f0" stroke-width="4.8" stroke-linecap="round"/>
<line x1="537.2" y1="464.2" x2="537.2" y2="512.6" stroke="#5858f0" stroke-width="4.6" stroke-linecap="butt"/>
<line x1="531.4" y1="464.2" x2="543.1" y2="464.2" stroke="#5858f0" stroke-width="4.8" stroke-linecap="round"/>
<line x1="531.4" y1="512.6" x2="543.1" y2="512.6" stroke="#5858f0" stroke-width="4.8" stroke-linecap="round"/>
<line x1="571.4" y1="461.9" x2="571.4" y2="512.7" stroke="#5858f0" stroke-width="4.6" stroke-linecap="butt"/>
<line x1="565.5" y1="461.9" x2="577.2" y2="461.9" stroke="#5858f0" stroke-width="4.8" stroke-linecap="round"/>
<line x1="565.5" y1="512.7" x2="577.2" y2="512.7" stroke="#5858f0" stroke-width="4.8" stroke-linecap="round"/>
<polyline points="128.1,687.0 162.2,649.0 196.2,636.5 230.4,615.0 264.5,591.5 298.6,576.5 332.7,561.0 366.8,549.0 400.9,541.8 435.0,526.1 469.1,522.8 503.2,512.3 537.2,488.4 571.4,487.3" fill="none" stroke="#5858f0" stroke-width="3.4" stroke-linejoin="round"/>
<polygon points="128.1,679.00 136.10,687 128.1,695.00 120.10,687" fill="#5858f0"/>
<polygon points="162.2,641.00 170.20,649 162.2,657.00 154.20,649" fill="#5858f0"/>
<polygon points="196.2,628.50 204.20,636.5 196.2,644.50 188.20,636.5" fill="#5858f0"/>
<polygon points="230.4,607.00 238.40,615 230.4,623.00 222.40,615" fill="#5858f0"/>
<polygon points="264.5,583.50 272.50,591.5 264.5,599.50 256.50,591.5" fill="#5858f0"/>
<polygon points="298.6,568.50 306.60,576.5 298.6,584.50 290.60,576.5" fill="#5858f0"/>
<polygon points="332.7,553.00 340.70,561 332.7,569.00 324.70,561" fill="#5858f0"/>
<polygon points="366.8,541.00 374.80,549 366.8,557.00 358.80,549" fill="#5858f0"/>
<polygon points="400.9,533.80 408.90,541.8 400.9,549.80 392.90,541.8" fill="#5858f0"/>
<polygon points="435.0,518.10 443.00,526.1 435.0,534.10 427.00,526.1" fill="#5858f0"/>
<polygon points="469.1,514.80 477.10,522.8 469.1,530.80 461.10,522.8" fill="#5858f0"/>
<polygon points="503.2,504.30 511.20,512.3 503.2,520.30 495.20,512.3" fill="#5858f0"/>
<polygon points="537.2,480.40 545.20,488.4 537.2,496.40 529.20,488.4" fill="#5858f0"/>
<polygon points="571.4,479.30 579.40,487.3 571.4,495.30 563.40,487.3" fill="#5858f0"/>
<text class="sr" x="196.7" y="598.6" font-size="19.2" text-anchor="middle" fill="#000" stroke="#000" stroke-width="0.3">#</text>
<text class="sr" x="231.6" y="572.4" font-size="19.2" text-anchor="middle" fill="#000" stroke="#000" stroke-width="0.3">##</text>
<text class="sr" x="264.4" y="548.6" font-size="19.2" text-anchor="middle" fill="#000" stroke="#000" stroke-width="0.3">###</text>
<text class="sr" x="300.9" y="521.8" font-size="19.2" text-anchor="middle" fill="#000" stroke="#000" stroke-width="0.3">###</text>
<text class="sr" x="331.8" y="494.1" font-size="19.2" text-anchor="middle" fill="#000" stroke="#000" stroke-width="0.3">###</text>
<text class="sr" x="367" y="469.9" font-size="19.2" text-anchor="middle" fill="#000" stroke="#000" stroke-width="0.3">###</text>
<text class="sr" x="400.6" y="446.4" font-size="19.2" text-anchor="middle" fill="#000" stroke="#000" stroke-width="0.3">###</text>
<text class="sr" x="435.5" y="423.9" font-size="19.2" text-anchor="middle" fill="#000" stroke="#000" stroke-width="0.3">###</text>
<text class="sr" x="471.1" y="412.6" font-size="19.2" text-anchor="middle" fill="#000" stroke="#000" stroke-width="0.3">###</text>
<text class="sr" x="505.2" y="399.1" font-size="19.2" text-anchor="middle" fill="#000" stroke="#000" stroke-width="0.3">###</text>
<text class="sr" x="538.1" y="370" font-size="19.2" text-anchor="middle" fill="#000" stroke="#000" stroke-width="0.3">###</text>
<text class="sr" x="571.5" y="365.1" font-size="19.2" text-anchor="middle" fill="#000" stroke="#000" stroke-width="0.3">###</text>
<text class="ar" x="378.0" y="548.0" font-size="16.5" text-anchor="middle" fill="#000">**</text>
<text class="ar" x="379.0" y="569.0" font-size="16.5" text-anchor="middle" fill="#000">*</text>
<text class="ar" x="411.7" y="538.5" font-size="16.5" text-anchor="middle" fill="#000">**</text>
<text class="ar" x="412.3" y="556.3" font-size="16.5" text-anchor="middle" fill="#000">**</text>
<text class="ar" x="434.7" y="486.9" font-size="16.5" text-anchor="middle" fill="#000">*</text>
<text class="ar" x="448.1" y="521.0" font-size="16.5" text-anchor="middle" fill="#000">***</text>
<text class="ar" x="448.1" y="546.7" font-size="16.5" text-anchor="middle" fill="#000">***</text>
<text class="ar" x="468.2" y="478.1" font-size="16.5" text-anchor="middle" fill="#000">*</text>
<text class="ar" x="478.7" y="509.2" font-size="16.5" text-anchor="middle" fill="#000">***</text>
<text class="ar" x="481.6" y="544.2" font-size="16.5" text-anchor="middle" fill="#000">***</text>
<text class="ar" x="503.0" y="465.6" font-size="16.5" text-anchor="middle" fill="#000">**</text>
<text class="ar" x="515.8" y="494.9" font-size="16.5" text-anchor="middle" fill="#000">***</text>
<text class="ar" x="515.8" y="529.7" font-size="16.5" text-anchor="middle" fill="#000">***</text>
<text class="ar" x="536.5" y="450.5" font-size="16.5" text-anchor="middle" fill="#000">***</text>
<text class="ar" x="551.4" y="480.4" font-size="16.5" text-anchor="middle" fill="#000">***</text>
<text class="ar" x="551.6" y="510.9" font-size="16.5" text-anchor="middle" fill="#000">***</text>
<text class="ar" x="570.5" y="438.4" font-size="16.5" text-anchor="middle" fill="#000">**</text>
<text class="ar" x="590.4" y="472.8" font-size="16.5" text-anchor="middle" fill="#000">***</text>
<text class="ar" x="590.4" y="502.6" font-size="16.5" text-anchor="middle" fill="#000">***</text>
<line x1="620.6" y1="428" x2="655.6" y2="428" stroke="#a0a0a3" stroke-width="3.6" stroke-linecap="butt"/>
<circle cx="638" cy="428" r="6.3" fill="#a0a0a3"/>
<text class="sr" x="674.7" y="437.2" font-size="26.4" text-anchor="start" fill="#000">NOR</text>
<line x1="620.6" y1="464.75" x2="655.6" y2="464.75" stroke="#d94040" stroke-width="3.6" stroke-linecap="butt"/>
<rect x="631.70" y="458.45" width="12.6" height="12.6" fill="#d94040"/>
<text class="sr" x="674.7" y="473.95" font-size="26.4" text-anchor="start" fill="#000">HFD</text>
<line x1="620.6" y1="501.5" x2="655.6" y2="501.5" stroke="#e8a0a0" stroke-width="3.6" stroke-linecap="butt"/>
<polygon points="638,495.40 644.50,507.60 631.50,507.60" fill="#e8a0a0"/>
<text class="sr" x="674.7" y="510.7" font-size="26.4" text-anchor="start" fill="#000">HFD+ATV</text>
<line x1="620.6" y1="538" x2="655.6" y2="538" stroke="#a0bef8" stroke-width="3.6" stroke-linecap="butt"/>
<polygon points="638,544.10 644.50,531.90 631.50,531.90" fill="#a0bef8"/>
<text class="sr" x="674.7" y="547.2" font-size="26.4" text-anchor="start" fill="#000">HFD+CBL</text>
<line x1="620.6" y1="574.75" x2="655.6" y2="574.75" stroke="#5858f0" stroke-width="3.6" stroke-linecap="butt"/>
<polygon points="638,566.69 646.06,574.75 638,582.81 629.94,574.75" fill="#5858f0"/>
<text class="sr" x="674.7" y="583.95" font-size="26.4" text-anchor="start" fill="#000">HFD+CBH</text>
<line x1="909.5" y1="327.35" x2="909.5" y2="688.85" stroke="#000" stroke-width="3.5" stroke-linecap="butt"/>
<line x1="901.6" y1="687.1" x2="1387" y2="687.1" stroke="#000" stroke-width="3.5" stroke-linecap="round"/>
<line x1="901.6" y1="329.1" x2="909.5" y2="329.1" stroke="#000" stroke-width="3.5" stroke-linecap="round"/>
<text class="sb" x="896" y="338.3" font-size="27.4" text-anchor="end" fill="#000">25</text>
<line x1="901.6" y1="400.7" x2="909.5" y2="400.7" stroke="#000" stroke-width="3.5" stroke-linecap="round"/>
<text class="sb" x="896" y="409.9" font-size="27.4" text-anchor="end" fill="#000">20</text>
<line x1="901.6" y1="472.3" x2="909.5" y2="472.3" stroke="#000" stroke-width="3.5" stroke-linecap="round"/>
<text class="sb" x="896" y="481.5" font-size="27.4" text-anchor="end" fill="#000">15</text>
<line x1="901.6" y1="543.9" x2="909.5" y2="543.9" stroke="#000" stroke-width="3.5" stroke-linecap="round"/>
<text class="sb" x="896" y="553.1" font-size="27.4" text-anchor="end" fill="#000">10</text>
<line x1="901.6" y1="615.5" x2="909.5" y2="615.5" stroke="#000" stroke-width="3.5" stroke-linecap="round"/>
<text class="sb" x="896" y="624.7" font-size="27.4" text-anchor="end" fill="#000">5</text>
<line x1="901.6" y1="687.1" x2="909.5" y2="687.1" stroke="#000" stroke-width="3.5" stroke-linecap="round"/>
<text class="sb" x="896" y="696.3" font-size="27.4" text-anchor="end" fill="#000">0</text>
<line x1="928.2" y1="687.1" x2="928.2" y2="696" stroke="#000" stroke-width="3.5" stroke-linecap="round"/>
<text class="sb" x="929.5" y="732.6" font-size="27.4" text-anchor="middle" fill="#000">1</text>
<line x1="964.9" y1="687.1" x2="964.9" y2="696" stroke="#000" stroke-width="3.5" stroke-linecap="round"/>
<text class="sb" x="966.2" y="732.6" font-size="27.4" text-anchor="middle" fill="#000">2</text>
<line x1="1001.7" y1="687.1" x2="1001.7" y2="696" stroke="#000" stroke-width="3.5" stroke-linecap="round"/>
<text class="sb" x="1003.0" y="732.6" font-size="27.4" text-anchor="middle" fill="#000">3</text>
<line x1="1038.4" y1="687.1" x2="1038.4" y2="696" stroke="#000" stroke-width="3.5" stroke-linecap="round"/>
<text class="sb" x="1039.7" y="732.6" font-size="27.4" text-anchor="middle" fill="#000">4</text>
<line x1="1075.1" y1="687.1" x2="1075.1" y2="696" stroke="#000" stroke-width="3.5" stroke-linecap="round"/>
<text class="sb" x="1076.4" y="732.6" font-size="27.4" text-anchor="middle" fill="#000">5</text>
<line x1="1111.8" y1="687.1" x2="1111.8" y2="696" stroke="#000" stroke-width="3.5" stroke-linecap="round"/>
<text class="sb" x="1113.1" y="732.6" font-size="27.4" text-anchor="middle" fill="#000">6</text>
<line x1="1148.6" y1="687.1" x2="1148.6" y2="696" stroke="#000" stroke-width="3.5" stroke-linecap="round"/>
<text class="sb" x="1149.9" y="732.6" font-size="27.4" text-anchor="middle" fill="#000">7</text>
<line x1="1185.3" y1="687.1" x2="1185.3" y2="696" stroke="#000" stroke-width="3.5" stroke-linecap="round"/>
<text class="sb" x="1186.6" y="732.6" font-size="27.4" text-anchor="middle" fill="#000">8</text>
<line x1="1222.0" y1="687.1" x2="1222.0" y2="696" stroke="#000" stroke-width="3.5" stroke-linecap="round"/>
<text class="sb" x="1223.3" y="732.6" font-size="27.4" text-anchor="middle" fill="#000">9</text>
<line x1="1258.8" y1="687.1" x2="1258.8" y2="696" stroke="#000" stroke-width="3.5" stroke-linecap="round"/>
<text class="sb" x="1260.1" y="732.6" font-size="27.4" text-anchor="middle" fill="#000">10</text>
<line x1="1295.5" y1="687.1" x2="1295.5" y2="696" stroke="#000" stroke-width="3.5" stroke-linecap="round"/>
<text class="sb" x="1296.8" y="732.6" font-size="27.4" text-anchor="middle" fill="#000">11</text>
<line x1="1332.2" y1="687.1" x2="1332.2" y2="696" stroke="#000" stroke-width="3.5" stroke-linecap="round"/>
<text class="sb" x="1333.5" y="732.6" font-size="27.4" text-anchor="middle" fill="#000">12</text>
<line x1="1369.0" y1="687.1" x2="1369.0" y2="696" stroke="#000" stroke-width="3.5" stroke-linecap="round"/>
<text class="sb" x="1370.3" y="732.6" font-size="27.4" text-anchor="middle" fill="#000">13</text>
<text class="sb" x="1143.6" y="780.6" font-size="26.6" text-anchor="middle" fill="#000">Weeks</text>
<text class="sb" transform="translate(853.1 505.5) rotate(-90)" font-size="27.9" text-anchor="middle">Food intake (g)</text>
<line x1="964.9" y1="447.4" x2="964.9" y2="457.4" stroke="#a0a0a3" stroke-width="4.6" stroke-linecap="butt"/>
<line x1="958.9" y1="447.4" x2="970.9" y2="447.4" stroke="#a0a0a3" stroke-width="4.8" stroke-linecap="round"/>
<line x1="958.9" y1="457.4" x2="970.9" y2="457.4" stroke="#a0a0a3" stroke-width="4.8" stroke-linecap="round"/>
<line x1="1001.7" y1="418.4" x2="1001.7" y2="434.4" stroke="#a0a0a3" stroke-width="4.6" stroke-linecap="butt"/>
<line x1="995.7" y1="418.4" x2="1007.7" y2="418.4" stroke="#a0a0a3" stroke-width="4.8" stroke-linecap="round"/>
<line x1="995.7" y1="434.4" x2="1007.7" y2="434.4" stroke="#a0a0a3" stroke-width="4.8" stroke-linecap="round"/>
<line x1="1038.4" y1="440.7" x2="1038.4" y2="457.7" stroke="#a0a0a3" stroke-width="4.6" stroke-linecap="butt"/>
<line x1="1032.4" y1="440.7" x2="1044.4" y2="440.7" stroke="#a0a0a3" stroke-width="4.8" stroke-linecap="round"/>
<line x1="1032.4" y1="457.7" x2="1044.4" y2="457.7" stroke="#a0a0a3" stroke-width="4.8" stroke-linecap="round"/>
<line x1="1148.6" y1="444.7" x2="1148.6" y2="457.7" stroke="#a0a0a3" stroke-width="4.6" stroke-linecap="butt"/>
<line x1="1142.6" y1="444.7" x2="1154.6" y2="444.7" stroke="#a0a0a3" stroke-width="4.8" stroke-linecap="round"/>
<line x1="1142.6" y1="457.7" x2="1154.6" y2="457.7" stroke="#a0a0a3" stroke-width="4.8" stroke-linecap="round"/>
<line x1="1295.5" y1="451.1" x2="1295.5" y2="475.9" stroke="#a0a0a3" stroke-width="4.6" stroke-linecap="butt"/>
<line x1="1289.5" y1="451.1" x2="1301.5" y2="451.1" stroke="#a0a0a3" stroke-width="4.8" stroke-linecap="round"/>
<line x1="1289.5" y1="475.9" x2="1301.5" y2="475.9" stroke="#a0a0a3" stroke-width="4.8" stroke-linecap="round"/>
<line x1="1332.2" y1="461.4" x2="1332.2" y2="474.4" stroke="#a0a0a3" stroke-width="4.6" stroke-linecap="butt"/>
<line x1="1326.2" y1="461.4" x2="1338.2" y2="461.4" stroke="#a0a0a3" stroke-width="4.8" stroke-linecap="round"/>
<line x1="1326.2" y1="474.4" x2="1338.2" y2="474.4" stroke="#a0a0a3" stroke-width="4.8" stroke-linecap="round"/>
<polyline points="928.2,424.7 964.9,452.4 1001.7,426.4 1038.4,449.2 1075.1,469.2 1111.8,447.0 1148.6,451.2 1185.3,446.4 1222.0,462.2 1258.8,476.8 1295.5,463.5 1332.2,467.9 1369.0,437.8" fill="none" stroke="#a0a0a3" stroke-width="3.4" stroke-linejoin="round"/>
<circle cx="928.2" cy="424.7" r="6.25" fill="#a0a0a3"/>
<circle cx="964.9" cy="452.4" r="6.25" fill="#a0a0a3"/>
<circle cx="1001.7" cy="426.4" r="6.25" fill="#a0a0a3"/>
<circle cx="1038.4" cy="449.2" r="6.25" fill="#a0a0a3"/>
<circle cx="1075.1" cy="469.2" r="6.25" fill="#a0a0a3"/>
<circle cx="1111.8" cy="447" r="6.25" fill="#a0a0a3"/>
<circle cx="1148.6" cy="451.2" r="6.25" fill="#a0a0a3"/>
<circle cx="1185.3" cy="446.4" r="6.25" fill="#a0a0a3"/>
<circle cx="1222.0" cy="462.2" r="6.25" fill="#a0a0a3"/>
<circle cx="1258.8" cy="476.8" r="6.25" fill="#a0a0a3"/>
<circle cx="1295.5" cy="463.5" r="6.25" fill="#a0a0a3"/>
<circle cx="1332.2" cy="467.9" r="6.25" fill="#a0a0a3"/>
<circle cx="1369.0" cy="437.8" r="6.25" fill="#a0a0a3"/>
<line x1="928.2" y1="436.6" x2="928.2" y2="492.6" stroke="#d94040" stroke-width="4.6" stroke-linecap="butt"/>
<line x1="922.2" y1="436.6" x2="934.2" y2="436.6" stroke="#d94040" stroke-width="4.8" stroke-linecap="round"/>
<line x1="922.2" y1="492.6" x2="934.2" y2="492.6" stroke="#d94040" stroke-width="4.8" stroke-linecap="round"/>
<line x1="964.9" y1="462.4" x2="964.9" y2="512.4" stroke="#d94040" stroke-width="4.6" stroke-linecap="butt"/>
<line x1="958.9" y1="462.4" x2="970.9" y2="462.4" stroke="#d94040" stroke-width="4.8" stroke-linecap="round"/>
<line x1="958.9" y1="512.4" x2="970.9" y2="512.4" stroke="#d94040" stroke-width="4.8" stroke-linecap="round"/>
<line x1="1001.7" y1="460.2" x2="1001.7" y2="502.2" stroke="#d94040" stroke-width="4.6" stroke-linecap="butt"/>
<line x1="995.7" y1="460.2" x2="1007.7" y2="460.2" stroke="#d94040" stroke-width="4.8" stroke-linecap="round"/>
<line x1="995.7" y1="502.2" x2="1007.7" y2="502.2" stroke="#d94040" stroke-width="4.8" stroke-linecap="round"/>
<line x1="1038.4" y1="458.6" x2="1038.4" y2="509.6" stroke="#d94040" stroke-width="4.6" stroke-linecap="butt"/>
<line x1="1032.4" y1="458.6" x2="1044.4" y2="458.6" stroke="#d94040" stroke-width="4.8" stroke-linecap="round"/>
<line x1="1032.4" y1="509.6" x2="1044.4" y2="509.6" stroke="#d94040" stroke-width="4.8" stroke-linecap="round"/>
<line x1="1075.1" y1="476.0" x2="1075.1" y2="524.0" stroke="#d94040" stroke-width="4.6" stroke-linecap="butt"/>
<line x1="1069.1" y1="476.0" x2="1081.1" y2="476.0" stroke="#d94040" stroke-width="4.8" stroke-linecap="round"/>
<line x1="1069.1" y1="524.0" x2="1081.1" y2="524.0" stroke="#d94040" stroke-width="4.8" stroke-linecap="round"/>
<line x1="1111.8" y1="482.2" x2="1111.8" y2="527.0" stroke="#d94040" stroke-width="4.6" stroke-linecap="butt"/>
<line x1="1105.8" y1="482.2" x2="1117.8" y2="482.2" stroke="#d94040" stroke-width="4.8" stroke-linecap="round"/>
<line x1="1105.8" y1="527.0" x2="1117.8" y2="527.0" stroke="#d94040" stroke-width="4.8" stroke-linecap="round"/>
<line x1="1148.6" y1="479.7" x2="1148.6" y2="524.7" stroke="#d94040" stroke-width="4.6" stroke-linecap="butt"/>
<line x1="1142.6" y1="479.7" x2="1154.6" y2="479.7" stroke="#d94040" stroke-width="4.8" stroke-linecap="round"/>
<line x1="1142.6" y1="524.7" x2="1154.6" y2="524.7" stroke="#d94040" stroke-width="4.8" stroke-linecap="round"/>
<line x1="1185.3" y1="481.6" x2="1185.3" y2="526.4" stroke="#d94040" stroke-width="4.6" stroke-linecap="butt"/>
<line x1="1179.3" y1="481.6" x2="1191.3" y2="481.6" stroke="#d94040" stroke-width="4.8" stroke-linecap="round"/>
<line x1="1179.3" y1="526.4" x2="1191.3" y2="526.4" stroke="#d94040" stroke-width="4.8" stroke-linecap="round"/>
<line x1="1222.0" y1="486.0" x2="1222.0" y2="528.0" stroke="#d94040" stroke-width="4.6" stroke-linecap="butt"/>
<line x1="1216.0" y1="486.0" x2="1228.0" y2="486.0" stroke="#d94040" stroke-width="4.8" stroke-linecap="round"/>
<line x1="1216.0" y1="528.0" x2="1228.0" y2="528.0" stroke="#d94040" stroke-width="4.8" stroke-linecap="round"/>
<line x1="1258.8" y1="497.9" x2="1258.8" y2="540.3" stroke="#d94040" stroke-width="4.6" stroke-linecap="butt"/>
<line x1="1252.8" y1="497.9" x2="1264.8" y2="497.9" stroke="#d94040" stroke-width="4.8" stroke-linecap="round"/>
<line x1="1252.8" y1="540.3" x2="1264.8" y2="540.3" stroke="#d94040" stroke-width="4.8" stroke-linecap="round"/>
<line x1="1295.5" y1="497.5" x2="1295.5" y2="537.5" stroke="#d94040" stroke-width="4.6" stroke-linecap="butt"/>
<line x1="1289.5" y1="497.5" x2="1301.5" y2="497.5" stroke="#d94040" stroke-width="4.8" stroke-linecap="round"/>
<line x1="1289.5" y1="537.5" x2="1301.5" y2="537.5" stroke="#d94040" stroke-width="4.8" stroke-linecap="round"/>
<line x1="1332.2" y1="497.7" x2="1332.2" y2="538.3" stroke="#d94040" stroke-width="4.6" stroke-linecap="butt"/>
<line x1="1326.2" y1="497.7" x2="1338.2" y2="497.7" stroke="#d94040" stroke-width="4.8" stroke-linecap="round"/>
<line x1="1326.2" y1="538.3" x2="1338.2" y2="538.3" stroke="#d94040" stroke-width="4.8" stroke-linecap="round"/>
<line x1="1369.0" y1="456.0" x2="1369.0" y2="509.0" stroke="#d94040" stroke-width="4.6" stroke-linecap="butt"/>
<line x1="1363.0" y1="456.0" x2="1375.0" y2="456.0" stroke="#d94040" stroke-width="4.8" stroke-linecap="round"/>
<line x1="1363.0" y1="509.0" x2="1375.0" y2="509.0" stroke="#d94040" stroke-width="4.8" stroke-linecap="round"/>
<polyline points="928.2,464.6 964.9,487.4 1001.7,481.2 1038.4,484.1 1075.1,500.0 1111.8,504.6 1148.6,502.2 1185.3,504.0 1222.0,507.0 1258.8,519.1 1295.5,517.5 1332.2,518.0 1369.0,482.5" fill="none" stroke="#d94040" stroke-width="3.4" stroke-linejoin="round"/>
<rect x="921.95" y="458.35" width="12.5" height="12.5" fill="#d94040"/>
<rect x="958.65" y="481.15" width="12.5" height="12.5" fill="#d94040"/>
<rect x="995.45" y="474.95" width="12.5" height="12.5" fill="#d94040"/>
<rect x="1032.15" y="477.85" width="12.5" height="12.5" fill="#d94040"/>
<rect x="1068.85" y="493.75" width="12.5" height="12.5" fill="#d94040"/>
<rect x="1105.55" y="498.35" width="12.5" height="12.5" fill="#d94040"/>
<rect x="1142.35" y="495.95" width="12.5" height="12.5" fill="#d94040"/>
<rect x="1179.05" y="497.75" width="12.5" height="12.5" fill="#d94040"/>
<rect x="1215.75" y="500.75" width="12.5" height="12.5" fill="#d94040"/>
<rect x="1252.55" y="512.85" width="12.5" height="12.5" fill="#d94040"/>
<rect x="1289.25" y="511.25" width="12.5" height="12.5" fill="#d94040"/>
<rect x="1325.95" y="511.75" width="12.5" height="12.5" fill="#d94040"/>
<rect x="1362.75" y="476.25" width="12.5" height="12.5" fill="#d94040"/>
<line x1="1001.7" y1="440.0" x2="1001.7" y2="523.0" stroke="#e8a0a0" stroke-width="4.6" stroke-linecap="butt"/>
<line x1="995.7" y1="440.0" x2="1007.7" y2="440.0" stroke="#e8a0a0" stroke-width="4.8" stroke-linecap="round"/>
<line x1="995.7" y1="523.0" x2="1007.7" y2="523.0" stroke="#e8a0a0" stroke-width="4.8" stroke-linecap="round"/>
<line x1="1222.0" y1="467.9" x2="1222.0" y2="493.9" stroke="#e8a0a0" stroke-width="4.6" stroke-linecap="butt"/>
<line x1="1216.0" y1="467.9" x2="1228.0" y2="467.9" stroke="#e8a0a0" stroke-width="4.8" stroke-linecap="round"/>
<line x1="1216.0" y1="493.9" x2="1228.0" y2="493.9" stroke="#e8a0a0" stroke-width="4.8" stroke-linecap="round"/>
<line x1="1295.5" y1="495.2" x2="1295.5" y2="507.2" stroke="#e8a0a0" stroke-width="4.6" stroke-linecap="butt"/>
<line x1="1289.5" y1="495.2" x2="1301.5" y2="495.2" stroke="#e8a0a0" stroke-width="4.8" stroke-linecap="round"/>
<line x1="1289.5" y1="507.2" x2="1301.5" y2="507.2" stroke="#e8a0a0" stroke-width="4.8" stroke-linecap="round"/>
<line x1="1332.2" y1="489.3" x2="1332.2" y2="503.3" stroke="#e8a0a0" stroke-width="4.6" stroke-linecap="butt"/>
<line x1="1326.2" y1="489.3" x2="1338.2" y2="489.3" stroke="#e8a0a0" stroke-width="4.8" stroke-linecap="round"/>
<line x1="1326.2" y1="503.3" x2="1338.2" y2="503.3" stroke="#e8a0a0" stroke-width="4.8" stroke-linecap="round"/>
<polyline points="928.2,452.4 964.9,471.0 1001.7,482.5 1038.4,468.7 1075.1,482.5 1111.8,481.7 1148.6,482.5 1185.3,477.6 1222.0,480.9 1258.8,494.7 1295.5,501.2 1332.2,496.3 1369.0,463.0" fill="none" stroke="#e8a0a0" stroke-width="3.4" stroke-linejoin="round"/>
<polygon points="928.2,446.30 934.70,458.50 921.70,458.50" fill="#e8a0a0"/>
<polygon points="964.9,464.90 971.40,477.10 958.40,477.10" fill="#e8a0a0"/>
<polygon points="1001.7,476.40 1008.20,488.60 995.20,488.60" fill="#e8a0a0"/>
<polygon points="1038.4,462.60 1044.90,474.80 1031.90,474.80" fill="#e8a0a0"/>
<polygon points="1075.1,476.40 1081.60,488.60 1068.60,488.60" fill="#e8a0a0"/>
<polygon points="1111.8,475.60 1118.30,487.80 1105.30,487.80" fill="#e8a0a0"/>
<polygon points="1148.6,476.40 1155.10,488.60 1142.10,488.60" fill="#e8a0a0"/>
<polygon points="1185.3,471.50 1191.80,483.70 1178.80,483.70" fill="#e8a0a0"/>
<polygon points="1222.0,474.80 1228.50,487.00 1215.50,487.00" fill="#e8a0a0"/>
<polygon points="1258.8,488.60 1265.30,500.80 1252.30,500.80" fill="#e8a0a0"/>
<polygon points="1295.5,495.10 1302.00,507.30 1289.00,507.30" fill="#e8a0a0"/>
<polygon points="1332.2,490.20 1338.70,502.40 1325.70,502.40" fill="#e8a0a0"/>
<polygon points="1369.0,456.90 1375.50,469.10 1362.50,469.10" fill="#e8a0a0"/>
<line x1="1001.7" y1="442.7" x2="1001.7" y2="504.7" stroke="#a0bef8" stroke-width="4.6" stroke-linecap="butt"/>
<line x1="995.7" y1="442.7" x2="1007.7" y2="442.7" stroke="#a0bef8" stroke-width="4.8" stroke-linecap="round"/>
<line x1="995.7" y1="504.7" x2="1007.7" y2="504.7" stroke="#a0bef8" stroke-width="4.8" stroke-linecap="round"/>
<line x1="1075.1" y1="479.3" x2="1075.1" y2="497.3" stroke="#a0bef8" stroke-width="4.6" stroke-linecap="butt"/>
<line x1="1069.1" y1="479.3" x2="1081.1" y2="479.3" stroke="#a0bef8" stroke-width="4.8" stroke-linecap="round"/>
<line x1="1069.1" y1="497.3" x2="1081.1" y2="497.3" stroke="#a0bef8" stroke-width="4.8" stroke-linecap="round"/>
<line x1="1111.8" y1="481.3" x2="1111.8" y2="501.3" stroke="#a0bef8" stroke-width="4.6" stroke-linecap="butt"/>
<line x1="1105.8" y1="481.3" x2="1117.8" y2="481.3" stroke="#a0bef8" stroke-width="4.8" stroke-linecap="round"/>
<line x1="1105.8" y1="501.3" x2="1117.8" y2="501.3" stroke="#a0bef8" stroke-width="4.8" stroke-linecap="round"/>
<line x1="1148.6" y1="473.8" x2="1148.6" y2="511.2" stroke="#a0bef8" stroke-width="4.6" stroke-linecap="butt"/>
<line x1="1142.6" y1="473.8" x2="1154.6" y2="473.8" stroke="#a0bef8" stroke-width="4.8" stroke-linecap="round"/>
<line x1="1142.6" y1="511.2" x2="1154.6" y2="511.2" stroke="#a0bef8" stroke-width="4.8" stroke-linecap="round"/>
<line x1="1185.3" y1="477.6" x2="1185.3" y2="495.6" stroke="#a0bef8" stroke-width="4.6" stroke-linecap="butt"/>
<line x1="1179.3" y1="477.6" x2="1191.3" y2="477.6" stroke="#a0bef8" stroke-width="4.8" stroke-linecap="round"/>
<line x1="1179.3" y1="495.6" x2="1191.3" y2="495.6" stroke="#a0bef8" stroke-width="4.8" stroke-linecap="round"/>
<line x1="1222.0" y1="476.5" x2="1222.0" y2="501.5" stroke="#a0bef8" stroke-width="4.6" stroke-linecap="butt"/>
<line x1="1216.0" y1="476.5" x2="1228.0" y2="476.5" stroke="#a0bef8" stroke-width="4.8" stroke-linecap="round"/>
<line x1="1216.0" y1="501.5" x2="1228.0" y2="501.5" stroke="#a0bef8" stroke-width="4.8" stroke-linecap="round"/>
<line x1="1258.8" y1="489.8" x2="1258.8" y2="515.8" stroke="#a0bef8" stroke-width="4.6" stroke-linecap="butt"/>
<line x1="1252.8" y1="489.8" x2="1264.8" y2="489.8" stroke="#a0bef8" stroke-width="4.8" stroke-linecap="round"/>
<line x1="1252.8" y1="515.8" x2="1264.8" y2="515.8" stroke="#a0bef8" stroke-width="4.8" stroke-linecap="round"/>
<line x1="1295.5" y1="502.2" x2="1295.5" y2="518.2" stroke="#a0bef8" stroke-width="4.6" stroke-linecap="butt"/>
<line x1="1289.5" y1="502.2" x2="1301.5" y2="502.2" stroke="#a0bef8" stroke-width="4.8" stroke-linecap="round"/>
<line x1="1289.5" y1="518.2" x2="1301.5" y2="518.2" stroke="#a0bef8" stroke-width="4.8" stroke-linecap="round"/>
<line x1="1332.2" y1="501.2" x2="1332.2" y2="519.2" stroke="#a0bef8" stroke-width="4.6" stroke-linecap="butt"/>
<line x1="1326.2" y1="501.2" x2="1338.2" y2="501.2" stroke="#a0bef8" stroke-width="4.8" stroke-linecap="round"/>
<line x1="1326.2" y1="519.2" x2="1338.2" y2="519.2" stroke="#a0bef8" stroke-width="4.8" stroke-linecap="round"/>
<line x1="1369.0" y1="465.6" x2="1369.0" y2="489.6" stroke="#a0bef8" stroke-width="4.6" stroke-linecap="butt"/>
<line x1="1363.0" y1="465.6" x2="1375.0" y2="465.6" stroke="#a0bef8" stroke-width="4.8" stroke-linecap="round"/>
<line x1="1363.0" y1="489.6" x2="1375.0" y2="489.6" stroke="#a0bef8" stroke-width="4.8" stroke-linecap="round"/>
<polyline points="928.2,446.7 964.9,467.0 1001.7,472.7 1038.4,463.0 1075.1,488.3 1111.8,491.3 1148.6,492.5 1185.3,486.6 1222.0,489.0 1258.8,502.8 1295.5,510.2 1332.2,510.2 1369.0,477.6" fill="none" stroke="#a0bef8" stroke-width="3.4" stroke-linejoin="round"/>
<polygon points="928.2,452.80 934.70,440.60 921.70,440.60" fill="#a0bef8"/>
<polygon points="964.9,473.10 971.40,460.90 958.40,460.90" fill="#a0bef8"/>
<polygon points="1001.7,478.80 1008.20,466.60 995.20,466.60" fill="#a0bef8"/>
<polygon points="1038.4,469.10 1044.90,456.90 1031.90,456.90" fill="#a0bef8"/>
<polygon points="1075.1,494.40 1081.60,482.20 1068.60,482.20" fill="#a0bef8"/>
<polygon points="1111.8,497.40 1118.30,485.20 1105.30,485.20" fill="#a0bef8"/>
<polygon points="1148.6,498.60 1155.10,486.40 1142.10,486.40" fill="#a0bef8"/>
<polygon points="1185.3,492.70 1191.80,480.50 1178.80,480.50" fill="#a0bef8"/>
<polygon points="1222.0,495.10 1228.50,482.90 1215.50,482.90" fill="#a0bef8"/>
<polygon points="1258.8,508.90 1265.30,496.70 1252.30,496.70" fill="#a0bef8"/>
<polygon points="1295.5,516.30 1302.00,504.10 1289.00,504.10" fill="#a0bef8"/>
<polygon points="1332.2,516.30 1338.70,504.10 1325.70,504.10" fill="#a0bef8"/>
<polygon points="1369.0,483.70 1375.50,471.50 1362.50,471.50" fill="#a0bef8"/>
<line x1="1075.1" y1="474.5" x2="1075.1" y2="501.9" stroke="#0000f5" stroke-width="4.6" stroke-linecap="butt"/>
<line x1="1069.1" y1="474.5" x2="1081.1" y2="474.5" stroke="#0000f5" stroke-width="4.8" stroke-linecap="round"/>
<line x1="1069.1" y1="501.9" x2="1081.1" y2="501.9" stroke="#0000f5" stroke-width="4.8" stroke-linecap="round"/>
<line x1="1111.8" y1="471.4" x2="1111.8" y2="484.6" stroke="#0000f5" stroke-width="4.6" stroke-linecap="butt"/>
<line x1="1105.8" y1="471.4" x2="1117.8" y2="471.4" stroke="#0000f5" stroke-width="4.8" stroke-linecap="round"/>
<line x1="1105.8" y1="484.6" x2="1117.8" y2="484.6" stroke="#0000f5" stroke-width="4.8" stroke-linecap="round"/>
<line x1="1148.6" y1="473.8" x2="1148.6" y2="508.4" stroke="#0000f5" stroke-width="4.6" stroke-linecap="butt"/>
<line x1="1142.6" y1="473.8" x2="1154.6" y2="473.8" stroke="#0000f5" stroke-width="4.8" stroke-linecap="round"/>
<line x1="1142.6" y1="508.4" x2="1154.6" y2="508.4" stroke="#0000f5" stroke-width="4.8" stroke-linecap="round"/>
<line x1="1185.3" y1="475.0" x2="1185.3" y2="504.6" stroke="#0000f5" stroke-width="4.6" stroke-linecap="butt"/>
<line x1="1179.3" y1="475.0" x2="1191.3" y2="475.0" stroke="#0000f5" stroke-width="4.8" stroke-linecap="round"/>
<line x1="1179.3" y1="504.6" x2="1191.3" y2="504.6" stroke="#0000f5" stroke-width="4.8" stroke-linecap="round"/>
<line x1="1222.0" y1="476.2" x2="1222.0" y2="509.8" stroke="#0000f5" stroke-width="4.6" stroke-linecap="butt"/>
<line x1="1216.0" y1="476.2" x2="1228.0" y2="476.2" stroke="#0000f5" stroke-width="4.8" stroke-linecap="round"/>
<line x1="1216.0" y1="509.8" x2="1228.0" y2="509.8" stroke="#0000f5" stroke-width="4.8" stroke-linecap="round"/>
<line x1="1295.5" y1="490.9" x2="1295.5" y2="511.5" stroke="#0000f5" stroke-width="4.6" stroke-linecap="butt"/>
<line x1="1289.5" y1="490.9" x2="1301.5" y2="490.9" stroke="#0000f5" stroke-width="4.8" stroke-linecap="round"/>
<line x1="1289.5" y1="511.5" x2="1301.5" y2="511.5" stroke="#0000f5" stroke-width="4.8" stroke-linecap="round"/>
<line x1="1332.2" y1="486.5" x2="1332.2" y2="522.5" stroke="#0000f5" stroke-width="4.6" stroke-linecap="butt"/>
<line x1="1326.2" y1="486.5" x2="1338.2" y2="486.5" stroke="#0000f5" stroke-width="4.8" stroke-linecap="round"/>
<line x1="1326.2" y1="522.5" x2="1338.2" y2="522.5" stroke="#0000f5" stroke-width="4.8" stroke-linecap="round"/>
<line x1="1369.0" y1="456.8" x2="1369.0" y2="486.0" stroke="#0000f5" stroke-width="4.6" stroke-linecap="butt"/>
<line x1="1363.0" y1="456.8" x2="1375.0" y2="456.8" stroke="#0000f5" stroke-width="4.8" stroke-linecap="round"/>
<line x1="1363.0" y1="486.0" x2="1375.0" y2="486.0" stroke="#0000f5" stroke-width="4.8" stroke-linecap="round"/>
<polyline points="928.2,435.3 964.9,476.5 1001.7,456.5 1038.4,478.4 1075.1,488.2 1111.8,478.0 1148.6,491.1 1185.3,489.8 1222.0,493.0 1258.8,510.2 1295.5,501.2 1332.2,504.5 1369.0,471.4" fill="none" stroke="#0000f5" stroke-width="3.4" stroke-linejoin="round"/>
<polygon points="928.2,427.30 936.20,435.3 928.2,443.30 920.20,435.3" fill="#0000f5"/>
<polygon points="964.9,468.50 972.90,476.5 964.9,484.50 956.90,476.5" fill="#0000f5"/>
<polygon points="1001.7,448.50 1009.70,456.5 1001.7,464.50 993.70,456.5" fill="#0000f5"/>
<polygon points="1038.4,470.40 1046.40,478.4 1038.4,486.40 1030.40,478.4" fill="#0000f5"/>
<polygon points="1075.1,480.20 1083.10,488.2 1075.1,496.20 1067.10,488.2" fill="#0000f5"/>
<polygon points="1111.8,470.00 1119.80,478 1111.8,486.00 1103.80,478" fill="#0000f5"/>
<polygon points="1148.6,483.10 1156.60,491.1 1148.6,499.10 1140.60,491.1" fill="#0000f5"/>
<polygon points="1185.3,481.80 1193.30,489.8 1185.3,497.80 1177.30,489.8" fill="#0000f5"/>
<polygon points="1222.0,485.00 1230.00,493 1222.0,501.00 1214.00,493" fill="#0000f5"/>
<polygon points="1258.8,502.20 1266.80,510.2 1258.8,518.20 1250.80,510.2" fill="#0000f5"/>
<polygon points="1295.5,493.20 1303.50,501.2 1295.5,509.20 1287.50,501.2" fill="#0000f5"/>
<polygon points="1332.2,496.50 1340.20,504.5 1332.2,512.50 1324.20,504.5" fill="#0000f5"/>
<polygon points="1369.0,463.40 1377.00,471.4 1369.0,479.40 1361.00,471.4" fill="#0000f5"/>
<line x1="1419.9" y1="390" x2="1454.3" y2="390" stroke="#a0a0a3" stroke-width="3.6" stroke-linecap="butt"/>
<circle cx="1437.2" cy="390" r="6.3" fill="#a0a0a3"/>
<text class="sr" x="1473.6" y="398.9" font-size="26.25" text-anchor="start" fill="#000">NOR</text>
<line x1="1419.9" y1="426.7" x2="1454.3" y2="426.7" stroke="#d94040" stroke-width="3.6" stroke-linecap="butt"/>
<rect x="1430.90" y="420.40" width="12.6" height="12.6" fill="#d94040"/>
<text class="sr" x="1473.6" y="435.59999999999997" font-size="26.25" text-anchor="start" fill="#000">HFD</text>
<line x1="1419.9" y1="463.5" x2="1454.3" y2="463.5" stroke="#e8a0a0" stroke-width="3.6" stroke-linecap="butt"/>
<polygon points="1437.2,457.40 1443.70,469.60 1430.70,469.60" fill="#e8a0a0"/>
<text class="sr" x="1473.6" y="472.4" font-size="26.25" text-anchor="start" fill="#000">HFD+ATV</text>
<line x1="1419.9" y1="500.2" x2="1454.3" y2="500.2" stroke="#a0bef8" stroke-width="3.6" stroke-linecap="butt"/>
<polygon points="1437.2,506.30 1443.70,494.10 1430.70,494.10" fill="#a0bef8"/>
<text class="sr" x="1473.6" y="509.09999999999997" font-size="26.25" text-anchor="start" fill="#000">HFD+CBL</text>
<line x1="1419.9" y1="536.7" x2="1454.3" y2="536.7" stroke="#0000f5" stroke-width="3.6" stroke-linecap="butt"/>
<polygon points="1437.2,528.64 1445.26,536.7 1437.2,544.76 1429.14,536.7" fill="#0000f5"/>
<text class="sr" x="1473.6" y="545.6" font-size="26.25" text-anchor="start" fill="#000">HFD+CBH</text>
<line x1="156.7" y1="1085.6" x2="156.7" y2="1093.9" stroke="#000" stroke-width="4.6" stroke-linecap="butt"/>
<line x1="141.1" y1="1085.6" x2="172.3" y2="1085.6" stroke="#000" stroke-width="5.0" stroke-linecap="round"/>
<path d="M124.85 1158.3 L124.85 1094.05 L188.55 1094.05 L188.55 1158.3" fill="#ffffff" stroke="#000" stroke-width="4.3" stroke-linejoin="round"/>
<line x1="252.1" y1="885.3" x2="252.1" y2="896.8" stroke="#000" stroke-width="4.6" stroke-linecap="butt"/>
<line x1="236.5" y1="885.3" x2="267.7" y2="885.3" stroke="#000" stroke-width="5.0" stroke-linecap="round"/>
<path d="M220.25 1158.3 L220.25 896.95 L283.95 896.95 L283.95 1158.3" fill="#000000" stroke="#000" stroke-width="4.3" stroke-linejoin="round"/>
<line x1="347.4" y1="929.1" x2="347.4" y2="949.6" stroke="#000" stroke-width="4.6" stroke-linecap="butt"/>
<line x1="331.8" y1="929.1" x2="363.1" y2="929.1" stroke="#000" stroke-width="5.0" stroke-linecap="round"/>
<path d="M315.60 1158.3 L315.60 949.75 L379.30 949.75 L379.30 1158.3" fill="#cedcf6" stroke="#000" stroke-width="4.3" stroke-linejoin="round"/>
<line x1="442.9" y1="922.8" x2="442.9" y2="937.6" stroke="#000" stroke-width="4.6" stroke-linecap="butt"/>
<line x1="427.3" y1="922.8" x2="458.5" y2="922.8" stroke="#000" stroke-width="5.0" stroke-linecap="round"/>
<path d="M411.05 1158.3 L411.05 937.75 L474.75 937.75 L474.75 1158.3" fill="#a0bef8" stroke="#000" stroke-width="4.3" stroke-linejoin="round"/>
<line x1="538.5" y1="928.6" x2="538.5" y2="948.4" stroke="#000" stroke-width="4.6" stroke-linecap="butt"/>
<line x1="522.9" y1="928.6" x2="554.1" y2="928.6" stroke="#000" stroke-width="5.0" stroke-linecap="round"/>
<path d="M506.65 1158.3 L506.65 948.55 L570.35 948.55 L570.35 1158.3" fill="#73a0f8" stroke="#000" stroke-width="4.3" stroke-linejoin="round"/>
<line x1="108.8" y1="838.65" x2="108.8" y2="1160.05" stroke="#000" stroke-width="3.5" stroke-linecap="butt"/>
<line x1="100.4" y1="1158.3" x2="586" y2="1158.3" stroke="#000" stroke-width="3.5" stroke-linecap="round"/>
<line x1="100.4" y1="840.4" x2="108.8" y2="840.4" stroke="#000" stroke-width="3.5" stroke-linecap="round"/>
<text class="ab" transform="translate(96.6 848.9) scale(0.87 1)" font-size="25.4" text-anchor="end">3</text>
<line x1="100.4" y1="946.4" x2="108.8" y2="946.4" stroke="#000" stroke-width="3.5" stroke-linecap="round"/>
<text class="ab" transform="translate(96.6 954.9) scale(0.87 1)" font-size="25.4" text-anchor="end">2</text>
<line x1="100.4" y1="1052.3" x2="108.8" y2="1052.3" stroke="#000" stroke-width="3.5" stroke-linecap="round"/>
<text class="ab" transform="translate(96.6 1060.8) scale(0.87 1)" font-size="25.4" text-anchor="end">1</text>
<line x1="100.4" y1="1158.3" x2="108.8" y2="1158.3" stroke="#000" stroke-width="3.5" stroke-linecap="round"/>
<text class="ab" transform="translate(96.6 1166.8) scale(0.87 1)" font-size="25.4" text-anchor="end">0</text>
<text class="sb" x="158" y="1193.4" font-size="26.6" text-anchor="middle" fill="#000">NOR</text>
<text class="sb" x="254" y="1193.4" font-size="26.6" text-anchor="middle" fill="#000">-</text>
<text class="sb" x="351.5" y="1193.4" font-size="26.6" text-anchor="middle" fill="#000">ATV</text>
<text class="sb" x="445" y="1193.4" font-size="26.6" text-anchor="middle" fill="#000">CBL</text>
<text class="sb" x="540.3" y="1193.4" font-size="26.6" text-anchor="middle" fill="#000">CBH</text>
<line x1="220" y1="1206.5" x2="577.3" y2="1206.5" stroke="#000" stroke-width="3.5" stroke-linecap="butt"/>
<text class="sb" x="314.2" y="1241.6" font-size="26.6" text-anchor="start" fill="#000">High Fat Diet</text>
<text class="sb" transform="translate(69 1000.2) rotate(-90)" font-size="27.2" text-anchor="middle">Epididymal fat (g)</text>
<text class="sr" x="252.3" y="874" font-size="26" text-anchor="middle" fill="#000">##</text>
<text class="sr" x="347.6" y="922.3" font-size="27" text-anchor="middle" fill="#000">*</text>
<text class="sr" x="536.2" y="926.2" font-size="27" text-anchor="middle" fill="#000">*</text>
<line x1="961.5" y1="884.4" x2="961.5" y2="888.6" stroke="#000" stroke-width="4.6" stroke-linecap="butt"/>
<line x1="945.9" y1="884.4" x2="977.1" y2="884.4" stroke="#000" stroke-width="5.0" stroke-linecap="round"/>
<path d="M929.65 1149.9 L929.65 888.75 L993.35 888.75 L993.35 1149.9" fill="#ffffff" stroke="#000" stroke-width="4.3" stroke-linejoin="round"/>
<line x1="1056.6" y1="868.8" x2="1056.6" y2="878.9" stroke="#000" stroke-width="4.6" stroke-linecap="butt"/>
<line x1="1041.0" y1="868.8" x2="1072.2" y2="868.8" stroke="#000" stroke-width="5.0" stroke-linecap="round"/>
<path d="M1024.75 1149.9 L1024.75 879.05 L1088.45 879.05 L1088.45 1149.9" fill="#000000" stroke="#000" stroke-width="4.3" stroke-linejoin="round"/>
<line x1="1152.1" y1="899.6" x2="1152.1" y2="909.6" stroke="#000" stroke-width="4.6" stroke-linecap="butt"/>
<line x1="1136.5" y1="899.6" x2="1167.7" y2="899.6" stroke="#000" stroke-width="5.0" stroke-linecap="round"/>
<path d="M1120.25 1149.9 L1120.25 909.75 L1183.95 909.75 L1183.95 1149.9" fill="#cedcf6" stroke="#000" stroke-width="4.3" stroke-linejoin="round"/>
<line x1="1247.6" y1="910.9" x2="1247.6" y2="914.2" stroke="#000" stroke-width="4.6" stroke-linecap="butt"/>
<line x1="1232.0" y1="910.9" x2="1263.2" y2="910.9" stroke="#000" stroke-width="5.0" stroke-linecap="round"/>
<path d="M1215.70 1149.9 L1215.70 914.35 L1279.40 914.35 L1279.40 1149.9" fill="#a0bef8" stroke="#000" stroke-width="4.3" stroke-linejoin="round"/>
<line x1="1343.0" y1="910.6" x2="1343.0" y2="916.7" stroke="#000" stroke-width="4.6" stroke-linecap="butt"/>
<line x1="1327.5" y1="910.6" x2="1358.6" y2="910.6" stroke="#000" stroke-width="5.0" stroke-linecap="round"/>
<path d="M1311.20 1149.9 L1311.20 916.85 L1374.90 916.85 L1374.90 1149.9" fill="#73a0f8" stroke="#000" stroke-width="4.3" stroke-linejoin="round"/>
<line x1="913.3" y1="828.75" x2="913.3" y2="1151.65" stroke="#000" stroke-width="3.5" stroke-linecap="butt"/>
<line x1="904.4" y1="1149.9" x2="1390.4" y2="1149.9" stroke="#000" stroke-width="3.5" stroke-linecap="round"/>
<line x1="904.4" y1="830.5" x2="913.3" y2="830.5" stroke="#000" stroke-width="3.5" stroke-linecap="round"/>
<text class="sb" x="899.6" y="840.5" font-size="27.2" text-anchor="end" fill="#000">0.5</text>
<line x1="904.4" y1="895.1" x2="913.3" y2="895.1" stroke="#000" stroke-width="3.5" stroke-linecap="round"/>
<text class="sb" x="899.6" y="905.1" font-size="27.2" text-anchor="end" fill="#000">0.4</text>
<line x1="904.4" y1="959" x2="913.3" y2="959" stroke="#000" stroke-width="3.5" stroke-linecap="round"/>
<text class="sb" x="899.6" y="969.0" font-size="27.2" text-anchor="end" fill="#000">0.3</text>
<line x1="904.4" y1="1022.8" x2="913.3" y2="1022.8" stroke="#000" stroke-width="3.5" stroke-linecap="round"/>
<text class="sb" x="899.6" y="1032.8" font-size="27.2" text-anchor="end" fill="#000">0.2</text>
<line x1="904.4" y1="1086.5" x2="913.3" y2="1086.5" stroke="#000" stroke-width="3.5" stroke-linecap="round"/>
<text class="sb" x="899.6" y="1096.5" font-size="27.2" text-anchor="end" fill="#000">0.1</text>
<line x1="904.4" y1="1149.9" x2="913.3" y2="1149.9" stroke="#000" stroke-width="3.5" stroke-linecap="round"/>
<text class="sb" x="899.6" y="1159.9" font-size="27.2" text-anchor="end" fill="#000">0.0</text>
<text class="sb" x="962" y="1195" font-size="26.6" text-anchor="middle" fill="#000">NOR</text>
<text class="sb" x="1058" y="1195" font-size="26.6" text-anchor="middle" fill="#000">-</text>
<text class="sb" x="1155.3" y="1195" font-size="26.6" text-anchor="middle" fill="#000">ATV</text>
<text class="sb" x="1248.8" y="1195" font-size="26.6" text-anchor="middle" fill="#000">CBL</text>
<text class="sb" x="1344" y="1195" font-size="26.6" text-anchor="middle" fill="#000">CBH</text>
<line x1="1023.4" y1="1208.3" x2="1380.9" y2="1208.3" stroke="#000" stroke-width="3.5" stroke-linecap="butt"/>
<text class="sb" x="1117.4" y="1244" font-size="26.6" text-anchor="start" fill="#000">High Fat Diet</text>
<text class="sb" transform="translate(851.7 989.2) rotate(-90)" font-size="27.8" text-anchor="middle">Gastrocnemius (g)</text>
<line x1="158.7" y1="1478.5" x2="158.7" y2="1494.8" stroke="#000" stroke-width="4.6" stroke-linecap="butt"/>
<line x1="143.1" y1="1478.5" x2="174.3" y2="1478.5" stroke="#000" stroke-width="5.0" stroke-linecap="round"/>
<path d="M126.85 1686.2 L126.85 1494.95 L190.55 1494.95 L190.55 1686.2" fill="#ffffff" stroke="#000" stroke-width="4.3" stroke-linejoin="round"/>
<line x1="253.8" y1="1384.7" x2="253.8" y2="1402.9" stroke="#000" stroke-width="4.6" stroke-linecap="butt"/>
<line x1="238.2" y1="1384.7" x2="269.4" y2="1384.7" stroke="#000" stroke-width="5.0" stroke-linecap="round"/>
<path d="M222.00 1686.2 L222.00 1403.05 L285.70 1403.05 L285.70 1686.2" fill="#000000" stroke="#000" stroke-width="4.3" stroke-linejoin="round"/>
<line x1="349.1" y1="1485.2" x2="349.1" y2="1496.7" stroke="#000" stroke-width="4.6" stroke-linecap="butt"/>
<line x1="333.4" y1="1485.2" x2="364.7" y2="1485.2" stroke="#000" stroke-width="5.0" stroke-linecap="round"/>
<path d="M317.20 1686.2 L317.20 1496.85 L380.90 1496.85 L380.90 1686.2" fill="#cedcf6" stroke="#000" stroke-width="4.3" stroke-linejoin="round"/>
<line x1="444.7" y1="1450.6" x2="444.7" y2="1465.1" stroke="#000" stroke-width="4.6" stroke-linecap="butt"/>
<line x1="429.1" y1="1450.6" x2="460.3" y2="1450.6" stroke="#000" stroke-width="5.0" stroke-linecap="round"/>
<path d="M412.85 1686.2 L412.85 1465.25 L476.55 1465.25 L476.55 1686.2" fill="#a0bef8" stroke="#000" stroke-width="4.3" stroke-linejoin="round"/>
<line x1="540.0" y1="1447.4" x2="540.0" y2="1455.1" stroke="#000" stroke-width="4.6" stroke-linecap="butt"/>
<line x1="524.4" y1="1447.4" x2="555.6" y2="1447.4" stroke="#000" stroke-width="5.0" stroke-linecap="round"/>
<path d="M508.20 1686.2 L508.20 1455.25 L571.90 1455.25 L571.90 1686.2" fill="#73a0f8" stroke="#000" stroke-width="4.3" stroke-linejoin="round"/>
<line x1="110.9" y1="1365.35" x2="110.9" y2="1687.95" stroke="#000" stroke-width="3.5" stroke-linecap="butt"/>
<line x1="101.4" y1="1686.2" x2="586.8" y2="1686.2" stroke="#000" stroke-width="3.5" stroke-linecap="round"/>
<line x1="101.4" y1="1367.1" x2="110.9" y2="1367.1" stroke="#000" stroke-width="3.5" stroke-linecap="round"/>
<text class="sb" x="96.4" y="1377.1" font-size="26.8" text-anchor="end" fill="#000">60</text>
<line x1="101.4" y1="1473.5" x2="110.9" y2="1473.5" stroke="#000" stroke-width="3.5" stroke-linecap="round"/>
<text class="sb" x="96.4" y="1483.5" font-size="26.8" text-anchor="end" fill="#000">40</text>
<line x1="101.4" y1="1580" x2="110.9" y2="1580" stroke="#000" stroke-width="3.5" stroke-linecap="round"/>
<text class="sb" x="96.4" y="1590.0" font-size="26.8" text-anchor="end" fill="#000">20</text>
<line x1="101.4" y1="1686.2" x2="110.9" y2="1686.2" stroke="#000" stroke-width="3.5" stroke-linecap="round"/>
<text class="sb" x="97.4" y="1696.2" font-size="26.8" text-anchor="end" fill="#000">0</text>
<text class="sb" x="152.7" y="1726" font-size="26.6" text-anchor="middle" fill="#000">NOR</text>
<text class="sb" x="247.8" y="1726" font-size="26.6" text-anchor="middle" fill="#000">-</text>
<text class="sb" x="345.4" y="1726" font-size="26.6" text-anchor="middle" fill="#000">ATV</text>
<text class="sb" x="439" y="1726" font-size="26.6" text-anchor="middle" fill="#000">CBL</text>
<text class="sb" x="534" y="1726" font-size="26.6" text-anchor="middle" fill="#000">CBH</text>
<line x1="214.6" y1="1739.6" x2="570.8" y2="1739.6" stroke="#000" stroke-width="3.5" stroke-linecap="butt"/>
<text class="sb" x="309" y="1774" font-size="26.6" text-anchor="start" fill="#000">High Fat Diet</text>
<text class="sb" transform="translate(54.5 1526.1) rotate(-90)" font-size="27.35" text-anchor="middle">Serum TG (mg/dl)</text>
<text class="sr" x="254" y="1370" font-size="26" text-anchor="middle" fill="#000">##</text>
<text class="sr" x="348.8" y="1484.6" font-size="27" text-anchor="middle" fill="#000">***</text>
<text class="sr" x="444.7" y="1451.0" font-size="27" text-anchor="middle" fill="#000">*</text>
<text class="sr" x="538.5" y="1441.8" font-size="27" text-anchor="middle" fill="#000">*</text>
<line x1="962.5" y1="1561.8" x2="962.5" y2="1565.8" stroke="#000" stroke-width="4.6" stroke-linecap="butt"/>
<line x1="946.9" y1="1561.8" x2="978.1" y2="1561.8" stroke="#000" stroke-width="5.0" stroke-linecap="round"/>
<path d="M930.60 1686.2 L930.60 1565.95 L994.30 1565.95 L994.30 1686.2" fill="#ffffff" stroke="#000" stroke-width="4.3" stroke-linejoin="round"/>
<line x1="1057.8" y1="1434.7" x2="1057.8" y2="1438.5" stroke="#000" stroke-width="4.6" stroke-linecap="butt"/>
<line x1="1042.2" y1="1434.7" x2="1073.4" y2="1434.7" stroke="#000" stroke-width="5.0" stroke-linecap="round"/>
<path d="M1025.95 1686.2 L1025.95 1438.65 L1089.65 1438.65 L1089.65 1686.2" fill="#000000" stroke="#000" stroke-width="4.3" stroke-linejoin="round"/>
<line x1="1153.3" y1="1471.2" x2="1153.3" y2="1484.2" stroke="#000" stroke-width="4.6" stroke-linecap="butt"/>
<line x1="1137.7" y1="1471.2" x2="1168.9" y2="1471.2" stroke="#000" stroke-width="5.0" stroke-linecap="round"/>
<path d="M1121.45 1686.2 L1121.45 1484.35 L1185.15 1484.35 L1185.15 1686.2" fill="#cedcf6" stroke="#000" stroke-width="4.3" stroke-linejoin="round"/>
<line x1="1248.7" y1="1461.1" x2="1248.7" y2="1468.4" stroke="#000" stroke-width="4.6" stroke-linecap="butt"/>
<line x1="1233.1" y1="1461.1" x2="1264.2" y2="1461.1" stroke="#000" stroke-width="5.0" stroke-linecap="round"/>
<path d="M1216.80 1686.2 L1216.80 1468.55 L1280.50 1468.55 L1280.50 1686.2" fill="#a0bef8" stroke="#000" stroke-width="4.3" stroke-linejoin="round"/>
<line x1="1344.0" y1="1465.6" x2="1344.0" y2="1475.2" stroke="#000" stroke-width="4.6" stroke-linecap="butt"/>
<line x1="1328.5" y1="1465.6" x2="1359.6" y2="1465.6" stroke="#000" stroke-width="5.0" stroke-linecap="round"/>
<path d="M1312.20 1686.2 L1312.20 1475.35 L1375.90 1475.35 L1375.90 1686.2" fill="#73a0f8" stroke="#000" stroke-width="4.3" stroke-linejoin="round"/>
<line x1="914.7" y1="1365.35" x2="914.7" y2="1687.95" stroke="#000" stroke-width="3.5" stroke-linecap="butt"/>
<line x1="905.2" y1="1686.2" x2="1391" y2="1686.2" stroke="#000" stroke-width="3.5" stroke-linecap="round"/>
<line x1="905.2" y1="1367.4" x2="914.7" y2="1367.4" stroke="#000" stroke-width="3.5" stroke-linecap="round"/>
<text class="sb" x="898.8" y="1377.4" font-size="26.5" text-anchor="end" fill="#000">800</text>
<line x1="905.2" y1="1447.3" x2="914.7" y2="1447.3" stroke="#000" stroke-width="3.5" stroke-linecap="round"/>
<text class="sb" x="898.8" y="1457.3" font-size="26.5" text-anchor="end" fill="#000">600</text>
<line x1="905.2" y1="1527.1" x2="914.7" y2="1527.1" stroke="#000" stroke-width="3.5" stroke-linecap="round"/>
<text class="sb" x="898.8" y="1537.1" font-size="26.5" text-anchor="end" fill="#000">400</text>
<line x1="905.2" y1="1607" x2="914.7" y2="1607" stroke="#000" stroke-width="3.5" stroke-linecap="round"/>
<text class="sb" x="898.8" y="1617.0" font-size="26.5" text-anchor="end" fill="#000">200</text>
<line x1="905.2" y1="1686.4" x2="914.7" y2="1686.4" stroke="#000" stroke-width="3.5" stroke-linecap="round"/>
<text class="sb" x="902.3" y="1696.4" font-size="26.5" text-anchor="end" fill="#000">0</text>
<text class="sb" x="956" y="1736.3" font-size="26.6" text-anchor="middle" fill="#000">NOR</text>
<text class="sb" x="1051.6" y="1736.3" font-size="26.6" text-anchor="middle" fill="#000">-</text>
<text class="sb" x="1149" y="1736.3" font-size="26.6" text-anchor="middle" fill="#000">ATV</text>
<text class="sb" x="1243" y="1736.3" font-size="26.6" text-anchor="middle" fill="#000">CBL</text>
<text class="sb" x="1338" y="1736.3" font-size="26.6" text-anchor="middle" fill="#000">CBH</text>
<line x1="1018.1" y1="1749" x2="1373.8" y2="1749" stroke="#000" stroke-width="3.5" stroke-linecap="butt"/>
<text class="sb" x="1112" y="1784.8" font-size="26.6" text-anchor="start" fill="#000">High Fat Diet</text>
<text class="sb" transform="translate(844.5 1526.4) rotate(-90)" font-size="26.9" text-anchor="middle">Serum TC (mg/dl)</text>
<text class="sr" x="1055.3" y="1421.5" font-size="26" text-anchor="middle" fill="#000">###</text>
<text class="sr" x="1153" y="1466.2" font-size="27" text-anchor="middle" fill="#000">**</text>
<text class="sr" x="1248.2" y="1457.4" font-size="27" text-anchor="middle" fill="#000">**</text>
<text class="sr" x="1342" y="1461.8" font-size="27" text-anchor="middle" fill="#000">**</text>
</svg>
</body>
</html>
